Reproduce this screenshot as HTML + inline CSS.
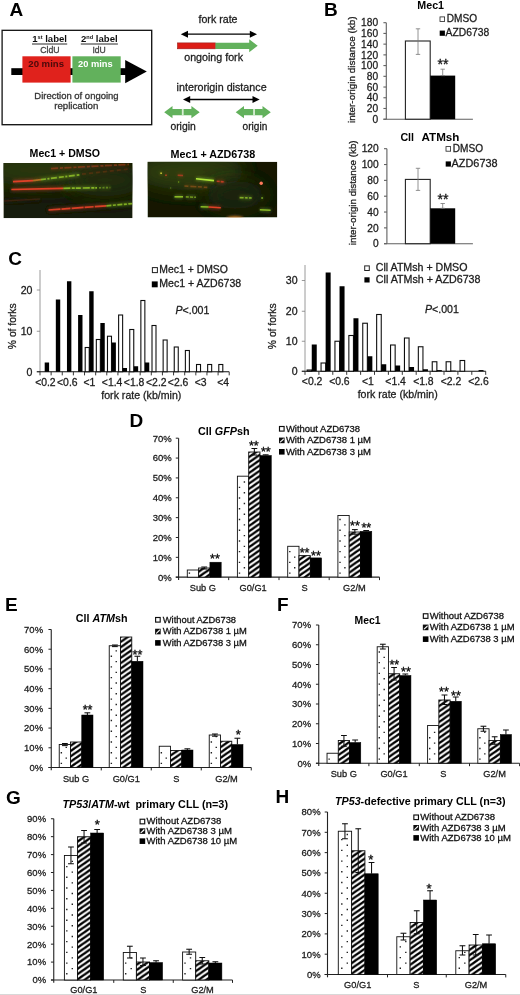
<!DOCTYPE html>
<html lang="en"><head><meta charset="utf-8"><title>Figure</title>
<style>html,body{margin:0;padding:0;background:#fff}svg{display:block;will-change:transform;transform:translateZ(0)}text{font-family:"Liberation Sans", Arial, sans-serif}</style></head><body>
<svg width="520" height="995" viewBox="0 0 520 995" fill="#1c1c1c">
<defs>
<pattern id="hatch" patternUnits="userSpaceOnUse" width="7.6" height="5.3"><rect width="7.6" height="5.3" fill="#fff"/><path d="M-7.6,10.6 L15.2,-5.3 M-7.6,5.3 L7.6,-5.3 M0,10.6 L15.2,0" stroke="#000" stroke-width="2.35"/></pattern>
<filter id="b1" filterUnits="userSpaceOnUse" x="0" y="150" width="300" height="80"><feGaussianBlur stdDeviation="0.55"/></filter>
<filter id="b2" filterUnits="userSpaceOnUse" x="0" y="150" width="300" height="80"><feGaussianBlur stdDeviation="1.6"/></filter>
<filter id="b3" filterUnits="userSpaceOnUse" x="-40" y="100" width="380" height="180"><feGaussianBlur stdDeviation="9"/></filter>
<filter id="soft" filterUnits="userSpaceOnUse" x="0" y="0" width="520" height="995"><feGaussianBlur stdDeviation="0.38"/></filter>
<clipPath id="cm1"><rect x="3.4" y="163" width="129.2" height="55.2"/></clipPath>
<clipPath id="cm2"><rect x="147.5" y="161.7" width="129.8" height="55.8"/></clipPath>
</defs>
<rect width="520" height="995" fill="#fff"/>
<g filter="url(#soft)">
<text x="9.60" y="16.40" font-size="19" font-weight="bold" fill="#000">A</text>
<text x="323.90" y="16.40" font-size="19" font-weight="bold" fill="#000">B</text>
<text x="8.30" y="265.30" font-size="19" font-weight="bold" fill="#000">C</text>
<text x="129.40" y="427.20" font-size="19" font-weight="bold" fill="#000">D</text>
<text x="5.10" y="610.50" font-size="19" font-weight="bold" fill="#000">E</text>
<text x="277.10" y="610.50" font-size="19" font-weight="bold" fill="#000">F</text>
<text x="5.90" y="803.50" font-size="19" font-weight="bold" fill="#000">G</text>
<text x="275.50" y="802.80" font-size="19" font-weight="bold" fill="#000">H</text>
<rect x="2.10" y="30.30" width="149.60" height="94.40" fill="#fff" stroke="#111" stroke-width="1.3" />
<rect x="11.30" y="68.20" width="117.00" height="6.80" fill="#000" />
<polygon points="125.2,60.0 146.8,71.6 125.2,83.2" fill="#000"/>
<rect x="22.40" y="56.30" width="48.20" height="26.30" fill="#e0201c" />
<rect x="72.40" y="56.30" width="48.30" height="26.30" fill="#62b15c" />
<text x="32.20" y="42.30" font-size="9.6" font-weight="bold" fill="#111" textLength="34.80" lengthAdjust="spacingAndGlyphs">1<tspan font-size="5.6" dy="-3.4">st</tspan><tspan dy="3.4"> label</tspan></text>
<line x1="32.00" y1="44.00" x2="67.20" y2="44.00" stroke="#111" stroke-width="0.9" />
<text x="81.00" y="42.30" font-size="9.6" font-weight="bold" fill="#111" textLength="36.70" lengthAdjust="spacingAndGlyphs">2<tspan font-size="5.6" dy="-3.4">nd</tspan><tspan dy="3.4"> label</tspan></text>
<line x1="80.80" y1="44.00" x2="117.90" y2="44.00" stroke="#111" stroke-width="0.9" />
<text x="40.20" y="53.30" font-size="8.2" fill="#444" textLength="19.40" lengthAdjust="spacingAndGlyphs" stroke="#444" stroke-width="0.28">CldU</text>
<text x="92.40" y="53.30" font-size="8.2" fill="#444" textLength="13.40" lengthAdjust="spacingAndGlyphs" stroke="#444" stroke-width="0.28">IdU</text>
<text x="28.30" y="67.40" font-size="9.8" font-weight="bold" fill="#4a0909" textLength="35.70" lengthAdjust="spacingAndGlyphs">20 mins</text>
<text x="78.00" y="67.40" font-size="9.8" font-weight="bold" fill="#fff" textLength="34.70" lengthAdjust="spacingAndGlyphs">20 mins</text>
<text x="34.30" y="98.60" font-size="9.2" fill="#333" textLength="84.30" lengthAdjust="spacingAndGlyphs" stroke="#333" stroke-width="0.28">Direction of ongoing</text>
<text x="54.20" y="109.30" font-size="9.2" fill="#333" textLength="44.20" lengthAdjust="spacingAndGlyphs" stroke="#333" stroke-width="0.28">replication</text>
<text x="198.50" y="23.30" font-size="10.6" textLength="39.00" lengthAdjust="spacingAndGlyphs" stroke="#1c1c1c" stroke-width="0.28">fork rate</text>
<line x1="187.50" y1="34.20" x2="250.30" y2="34.20" stroke="#000" stroke-width="1.3" />
<polygon points="180.8,34.2 188.0,30.700000000000003 188.0,37.7" fill="#000"/>
<polygon points="257,34.2 249.8,30.700000000000003 249.8,37.7" fill="#000"/>
<rect x="177.50" y="42.90" width="38.00" height="5.90" fill="#dc1c18" stroke="#9a1512" stroke-width="0.6" />
<polygon points="215.5,42.7 249.2,42.7 249.2,39.3 257.7,45.8 249.2,52.3 249.2,48.9 215.5,48.9" fill="#62b15c"/>
<text x="184.20" y="61.20" font-size="10.6" textLength="58.80" lengthAdjust="spacingAndGlyphs" stroke="#1c1c1c" stroke-width="0.28">ongoing fork</text>
<text x="176.60" y="91.20" font-size="10.6" textLength="90.00" lengthAdjust="spacingAndGlyphs" stroke="#1c1c1c" stroke-width="0.28">interorigin distance</text>
<line x1="189.70" y1="99.50" x2="253.00" y2="99.50" stroke="#000" stroke-width="1.3" />
<polygon points="183,99.5 190.2,96.0 190.2,103.0" fill="#000"/>
<polygon points="259.7,99.5 252.5,96.0 252.5,103.0" fill="#000"/>
<polygon points="164.2,112.2 172.5,106.10000000000001 172.5,109.10000000000001 191.39999999999998,109.10000000000001 191.39999999999998,106.10000000000001 199.7,112.2 191.39999999999998,118.3 191.39999999999998,115.3 172.5,115.3 172.5,118.3" fill="#62b15c"/>
<rect x="181.85" y="108.90" width="1.80" height="6.60" fill="#d9eed6" />
<polygon points="235.7,112.2 244.0,106.10000000000001 244.0,109.10000000000001 262.5,109.10000000000001 262.5,106.10000000000001 270.8,112.2 262.5,118.3 262.5,115.3 244.0,115.3 244.0,118.3" fill="#62b15c"/>
<rect x="253.15" y="108.90" width="1.80" height="6.60" fill="#d9eed6" />
<text x="170.40" y="130.00" font-size="10.6" textLength="25.40" lengthAdjust="spacingAndGlyphs" stroke="#1c1c1c" stroke-width="0.28">origin</text>
<text x="242.60" y="130.00" font-size="10.6" textLength="24.70" lengthAdjust="spacingAndGlyphs" stroke="#1c1c1c" stroke-width="0.28">origin</text>
<text x="29.60" y="157.00" font-size="10.2" font-weight="bold" fill="#000" textLength="70.40" lengthAdjust="spacingAndGlyphs">Mec1 + DMSO</text>
<text x="170.50" y="158.00" font-size="10.2" font-weight="bold" fill="#000" textLength="84.80" lengthAdjust="spacingAndGlyphs">Mec1 + AZD6738</text>
<g clip-path="url(#cm1)">
<rect x="3.40" y="163.00" width="129.20" height="55.20" fill="#141a07" />
<ellipse cx="40" cy="170" rx="60" ry="16" fill="#2c380d" filter="url(#b3)"/>
<ellipse cx="105" cy="180" rx="40" ry="16" fill="#232d0b" filter="url(#b3)"/>
<line x1="51" y1="168.6" x2="129" y2="164.4" stroke="#b5401c" stroke-width="4.1" opacity="0.19" filter="url(#b2)"/>
<line x1="51" y1="168.6" x2="129" y2="164.4" stroke="#b5401c" stroke-width="1.7" opacity="0.5" stroke-dasharray="7 2 3 1.5" filter="url(#b1)"/>
<line x1="13" y1="181.6" x2="33" y2="180.6" stroke="#e8432a" stroke-width="4.1" opacity="0.36" filter="url(#b2)"/>
<line x1="13" y1="181.6" x2="33" y2="180.6" stroke="#e8432a" stroke-width="1.7" opacity="0.95" filter="url(#b1)"/>
<line x1="33" y1="180.6" x2="41" y2="179.6" stroke="#c87828" stroke-width="4.1" opacity="0.30" filter="url(#b2)"/>
<line x1="33" y1="180.6" x2="41" y2="179.6" stroke="#c87828" stroke-width="1.7" opacity="0.8" filter="url(#b1)"/>
<line x1="41" y1="179.6" x2="79.4" y2="174.8" stroke="#93c62a" stroke-width="4.1" opacity="0.30" filter="url(#b2)"/>
<line x1="41" y1="179.6" x2="79.4" y2="174.8" stroke="#93c62a" stroke-width="1.7" opacity="0.8" stroke-dasharray="5 1.5 2 1.5 6 2" filter="url(#b1)"/>
<line x1="82" y1="174.2" x2="130" y2="168.8" stroke="#a03818" stroke-width="4.1" opacity="0.11" filter="url(#b2)"/>
<line x1="82" y1="174.2" x2="130" y2="168.8" stroke="#a03818" stroke-width="1.7" opacity="0.3" stroke-dasharray="4 3" filter="url(#b1)"/>
<line x1="11.4" y1="189.5" x2="63.3" y2="188.3" stroke="#e8432a" stroke-width="4.1" opacity="0.36" filter="url(#b2)"/>
<line x1="11.4" y1="189.5" x2="63.3" y2="188.3" stroke="#e8432a" stroke-width="1.7" opacity="0.95" filter="url(#b1)"/>
<line x1="63.3" y1="188.3" x2="97" y2="187.8" stroke="#93c62a" stroke-width="4.1" opacity="0.32" filter="url(#b2)"/>
<line x1="63.3" y1="188.3" x2="97" y2="187.8" stroke="#93c62a" stroke-width="1.7" opacity="0.85" stroke-dasharray="7 1.5 3 1 5 2" filter="url(#b1)"/>
<line x1="99" y1="187.8" x2="110.4" y2="187.6" stroke="#93c62a" stroke-width="4.1" opacity="0.19" filter="url(#b2)"/>
<line x1="99" y1="187.8" x2="110.4" y2="187.6" stroke="#93c62a" stroke-width="1.7" opacity="0.5" stroke-dasharray="2 1.5" filter="url(#b1)"/>
<line x1="48.5" y1="210.0" x2="106.4" y2="205.8" stroke="#e8432a" stroke-width="4.1" opacity="0.34" filter="url(#b2)"/>
<line x1="48.5" y1="210.0" x2="106.4" y2="205.8" stroke="#e8432a" stroke-width="1.7" opacity="0.9" stroke-dasharray="12 1 9 1.2" filter="url(#b1)"/>
<line x1="106.4" y1="205.8" x2="132" y2="203.6" stroke="#93c62a" stroke-width="4.1" opacity="0.30" filter="url(#b2)"/>
<line x1="106.4" y1="205.8" x2="132" y2="203.6" stroke="#93c62a" stroke-width="1.7" opacity="0.8" stroke-dasharray="5 1.5 3 1.5" filter="url(#b1)"/>
<line x1="4" y1="201.0" x2="40" y2="199.0" stroke="#7a3015" stroke-width="4.1" opacity="0.11" filter="url(#b2)"/>
<line x1="4" y1="201.0" x2="40" y2="199.0" stroke="#7a3015" stroke-width="1.7" opacity="0.3" filter="url(#b1)"/>
</g>
<g clip-path="url(#cm2)">
<rect x="147.50" y="161.70" width="129.80" height="55.80" fill="#121806" />
<ellipse cx="190" cy="172" rx="55" ry="18" fill="#2f3c0e" filter="url(#b3)"/>
<ellipse cx="235" cy="195" rx="30" ry="14" fill="#1e280a" filter="url(#b3)"/>
<line x1="160.4" y1="173.3" x2="161.8" y2="173.3" stroke="#e0d83a" stroke-width="4.0" opacity="0.38" filter="url(#b2)"/>
<line x1="160.4" y1="173.3" x2="161.8" y2="173.3" stroke="#e0d83a" stroke-width="1.6" opacity="1" filter="url(#b1)"/>
<line x1="165.3" y1="175.2" x2="166.7" y2="175.2" stroke="#e8432a" stroke-width="4.0" opacity="0.30" filter="url(#b2)"/>
<line x1="165.3" y1="175.2" x2="166.7" y2="175.2" stroke="#e8432a" stroke-width="1.6" opacity="0.8" filter="url(#b1)"/>
<line x1="177.7" y1="175.3" x2="183" y2="175.5" stroke="#e8432a" stroke-width="4.0" opacity="0.21" filter="url(#b2)"/>
<line x1="177.7" y1="175.3" x2="183" y2="175.5" stroke="#e8432a" stroke-width="1.6" opacity="0.55" filter="url(#b1)"/>
<line x1="196" y1="178.8" x2="214" y2="180.6" stroke="#b4ec3a" stroke-width="4.0" opacity="0.36" filter="url(#b2)"/>
<line x1="196" y1="178.8" x2="214" y2="180.6" stroke="#b4ec3a" stroke-width="1.6" opacity="0.95" filter="url(#b1)"/>
<line x1="216.7" y1="181.2" x2="224.8" y2="182" stroke="#e8432a" stroke-width="4.0" opacity="0.27" filter="url(#b2)"/>
<line x1="216.7" y1="181.2" x2="224.8" y2="182" stroke="#e8432a" stroke-width="1.6" opacity="0.7" stroke-dasharray="3 1" filter="url(#b1)"/>
<line x1="184.4" y1="186" x2="207.3" y2="187.4" stroke="#b0601a" stroke-width="4.0" opacity="0.19" filter="url(#b2)"/>
<line x1="184.4" y1="186" x2="207.3" y2="187.4" stroke="#b0601a" stroke-width="1.6" opacity="0.5" stroke-dasharray="4 2 6 1.5" filter="url(#b1)"/>
<line x1="174.5" y1="196.8" x2="183" y2="196.8" stroke="#93c62a" stroke-width="4.0" opacity="0.34" filter="url(#b2)"/>
<line x1="174.5" y1="196.8" x2="183" y2="196.8" stroke="#93c62a" stroke-width="1.6" opacity="0.9" filter="url(#b1)"/>
<line x1="185.8" y1="196.9" x2="196" y2="197.3" stroke="#93c62a" stroke-width="4.0" opacity="0.25" filter="url(#b2)"/>
<line x1="185.8" y1="196.9" x2="196" y2="197.3" stroke="#93c62a" stroke-width="1.6" opacity="0.65" stroke-dasharray="3 1.2" filter="url(#b1)"/>
<line x1="200.6" y1="206.8" x2="208.7" y2="207" stroke="#93c62a" stroke-width="4.0" opacity="0.34" filter="url(#b2)"/>
<line x1="200.6" y1="206.8" x2="208.7" y2="207" stroke="#93c62a" stroke-width="1.6" opacity="0.9" filter="url(#b1)"/>
<line x1="208.7" y1="207" x2="220.8" y2="207.8" stroke="#e8432a" stroke-width="4.0" opacity="0.36" filter="url(#b2)"/>
<line x1="208.7" y1="207" x2="220.8" y2="207.8" stroke="#e8432a" stroke-width="1.6" opacity="0.95" filter="url(#b1)"/>
<line x1="239.6" y1="197.6" x2="251.7" y2="198" stroke="#93c62a" stroke-width="4.0" opacity="0.30" filter="url(#b2)"/>
<line x1="239.6" y1="197.6" x2="251.7" y2="198" stroke="#93c62a" stroke-width="1.6" opacity="0.8" stroke-dasharray="4 1.5 2.5 1.5" filter="url(#b1)"/>
<line x1="261.3" y1="198" x2="262.9" y2="198" stroke="#93c62a" stroke-width="4.0" opacity="0.32" filter="url(#b2)"/>
<line x1="261.3" y1="198" x2="262.9" y2="198" stroke="#93c62a" stroke-width="1.6" opacity="0.85" filter="url(#b1)"/>
<line x1="259.8" y1="209.8" x2="270.6" y2="210.2" stroke="#93c62a" stroke-width="4.0" opacity="0.34" filter="url(#b2)"/>
<line x1="259.8" y1="209.8" x2="270.6" y2="210.2" stroke="#93c62a" stroke-width="1.6" opacity="0.9" filter="url(#b1)"/>
<line x1="178" y1="182" x2="179.2" y2="182" stroke="#93c62a" stroke-width="4.0" opacity="0.21" filter="url(#b2)"/>
<line x1="178" y1="182" x2="179.2" y2="182" stroke="#93c62a" stroke-width="1.6" opacity="0.55" filter="url(#b1)"/>
<line x1="170" y1="188" x2="171.2" y2="188" stroke="#93c62a" stroke-width="4.0" opacity="0.13" filter="url(#b2)"/>
<line x1="170" y1="188" x2="171.2" y2="188" stroke="#93c62a" stroke-width="1.6" opacity="0.35" filter="url(#b1)"/>
<circle cx="261.2" cy="183.3" r="1.7" fill="#ff7a5a" filter="url(#b1)"/>
<ellipse cx="235" cy="218.3" rx="8" ry="1.8" fill="#ff9a30" filter="url(#b2)"/>
</g>
<text x="417.30" y="9.20" font-size="10.7" font-weight="bold" fill="#000">Mec1</text>
<line x1="386.30" y1="22.70" x2="386.30" y2="119.20" stroke="#606060" stroke-width="1.1" />
<line x1="383.40" y1="119.20" x2="472.90" y2="119.20" stroke="#606060" stroke-width="1.1" />
<line x1="383.40" y1="119.20" x2="386.30" y2="119.20" stroke="#606060" stroke-width="1.1" />
<text x="378.10" y="122.85" font-size="10.2" text-anchor="end" stroke="#1c1c1c" stroke-width="0.28">0</text>
<line x1="383.40" y1="108.48" x2="386.30" y2="108.48" stroke="#606060" stroke-width="1.1" />
<text x="378.10" y="112.13" font-size="10.2" text-anchor="end" stroke="#1c1c1c" stroke-width="0.28">20</text>
<line x1="383.40" y1="97.76" x2="386.30" y2="97.76" stroke="#606060" stroke-width="1.1" />
<text x="378.10" y="101.41" font-size="10.2" text-anchor="end" stroke="#1c1c1c" stroke-width="0.28">40</text>
<line x1="383.40" y1="87.03" x2="386.30" y2="87.03" stroke="#606060" stroke-width="1.1" />
<text x="378.10" y="90.68" font-size="10.2" text-anchor="end" stroke="#1c1c1c" stroke-width="0.28">60</text>
<line x1="383.40" y1="76.31" x2="386.30" y2="76.31" stroke="#606060" stroke-width="1.1" />
<text x="378.10" y="79.96" font-size="10.2" text-anchor="end" stroke="#1c1c1c" stroke-width="0.28">80</text>
<line x1="383.40" y1="65.59" x2="386.30" y2="65.59" stroke="#606060" stroke-width="1.1" />
<text x="378.10" y="69.24" font-size="10.2" text-anchor="end" stroke="#1c1c1c" stroke-width="0.28">100</text>
<line x1="383.40" y1="54.87" x2="386.30" y2="54.87" stroke="#606060" stroke-width="1.1" />
<text x="378.10" y="58.52" font-size="10.2" text-anchor="end" stroke="#1c1c1c" stroke-width="0.28">120</text>
<line x1="383.40" y1="44.14" x2="386.30" y2="44.14" stroke="#606060" stroke-width="1.1" />
<text x="378.10" y="47.79" font-size="10.2" text-anchor="end" stroke="#1c1c1c" stroke-width="0.28">140</text>
<line x1="383.40" y1="33.42" x2="386.30" y2="33.42" stroke="#606060" stroke-width="1.1" />
<text x="378.10" y="37.07" font-size="10.2" text-anchor="end" stroke="#1c1c1c" stroke-width="0.28">160</text>
<line x1="383.40" y1="22.70" x2="386.30" y2="22.70" stroke="#606060" stroke-width="1.1" />
<text x="378.10" y="26.35" font-size="10.2" text-anchor="end" stroke="#1c1c1c" stroke-width="0.28">180</text>
<rect x="405.40" y="41.00" width="24.80" height="78.20" fill="#fff" stroke="#222" stroke-width="1.1" />
<rect x="430.20" y="75.60" width="25.00" height="43.60" fill="#000" />
<line x1="418.00" y1="28.80" x2="418.00" y2="54.40" stroke="#777" stroke-width="0.8" />
<line x1="415.80" y1="28.80" x2="420.20" y2="28.80" stroke="#777" stroke-width="0.8" />
<line x1="415.80" y1="54.40" x2="420.20" y2="54.40" stroke="#777" stroke-width="0.8" />
<line x1="442.70" y1="69.20" x2="442.70" y2="75.60" stroke="#777" stroke-width="0.8" />
<line x1="440.50" y1="69.20" x2="444.90" y2="69.20" stroke="#777" stroke-width="0.8" />
<line x1="440.50" y1="75.60" x2="444.90" y2="75.60" stroke="#777" stroke-width="0.8" />
<text x="443.00" y="69.30" font-size="14" text-anchor="middle" fill="#111" textLength="11.00" lengthAdjust="spacingAndGlyphs" stroke="#111" stroke-width="0.28">**</text>
<text x="355.30" y="123.00" font-size="9.9" textLength="106.70" lengthAdjust="spacingAndGlyphs" transform="rotate(-90 355.30 123.00)" stroke="#1c1c1c" stroke-width="0.28">inter-origin distance (kb)</text>
<rect x="440.00" y="16.90" width="4.60" height="4.60" fill="#fff" stroke="#222" stroke-width="0.8" />
<text x="446.80" y="21.90" font-size="10.1" textLength="30.30" lengthAdjust="spacingAndGlyphs" stroke="#1c1c1c" stroke-width="0.28">DMSO</text>
<rect x="439.70" y="30.60" width="5.20" height="5.20" fill="#000" />
<text x="445.60" y="36.20" font-size="10.4" textLength="43.60" lengthAdjust="spacingAndGlyphs" stroke="#1c1c1c" stroke-width="0.28">AZD6738</text>
<text x="400.40" y="141.20" font-size="10.7" font-weight="bold" fill="#000">Cll</text>
<text x="421.50" y="141.20" font-size="10.7" font-weight="bold" fill="#000" textLength="37.90" lengthAdjust="spacingAndGlyphs">ATMsh</text>
<line x1="386.90" y1="148.70" x2="386.90" y2="243.70" stroke="#606060" stroke-width="1.1" />
<line x1="384.00" y1="243.70" x2="472.90" y2="243.70" stroke="#606060" stroke-width="1.1" />
<line x1="384.00" y1="243.70" x2="386.90" y2="243.70" stroke="#606060" stroke-width="1.1" />
<text x="378.70" y="247.35" font-size="10.2" text-anchor="end" stroke="#1c1c1c" stroke-width="0.28">0</text>
<line x1="384.00" y1="227.87" x2="386.90" y2="227.87" stroke="#606060" stroke-width="1.1" />
<text x="378.70" y="231.52" font-size="10.2" text-anchor="end" stroke="#1c1c1c" stroke-width="0.28">20</text>
<line x1="384.00" y1="212.03" x2="386.90" y2="212.03" stroke="#606060" stroke-width="1.1" />
<text x="378.70" y="215.68" font-size="10.2" text-anchor="end" stroke="#1c1c1c" stroke-width="0.28">40</text>
<line x1="384.00" y1="196.20" x2="386.90" y2="196.20" stroke="#606060" stroke-width="1.1" />
<text x="378.70" y="199.85" font-size="10.2" text-anchor="end" stroke="#1c1c1c" stroke-width="0.28">60</text>
<line x1="384.00" y1="180.37" x2="386.90" y2="180.37" stroke="#606060" stroke-width="1.1" />
<text x="378.70" y="184.02" font-size="10.2" text-anchor="end" stroke="#1c1c1c" stroke-width="0.28">80</text>
<line x1="384.00" y1="164.53" x2="386.90" y2="164.53" stroke="#606060" stroke-width="1.1" />
<text x="378.70" y="168.18" font-size="10.2" text-anchor="end" stroke="#1c1c1c" stroke-width="0.28">100</text>
<line x1="384.00" y1="148.70" x2="386.90" y2="148.70" stroke="#606060" stroke-width="1.1" />
<text x="378.70" y="152.35" font-size="10.2" text-anchor="end" stroke="#1c1c1c" stroke-width="0.28">120</text>
<rect x="405.40" y="179.40" width="24.80" height="64.30" fill="#fff" stroke="#222" stroke-width="1.1" />
<rect x="430.20" y="208.30" width="25.00" height="35.40" fill="#000" />
<line x1="418.00" y1="168.30" x2="418.00" y2="190.40" stroke="#777" stroke-width="0.8" />
<line x1="415.80" y1="168.30" x2="420.20" y2="168.30" stroke="#777" stroke-width="0.8" />
<line x1="415.80" y1="190.40" x2="420.20" y2="190.40" stroke="#777" stroke-width="0.8" />
<line x1="442.70" y1="203.50" x2="442.70" y2="208.30" stroke="#777" stroke-width="0.8" />
<line x1="440.50" y1="203.50" x2="444.90" y2="203.50" stroke="#777" stroke-width="0.8" />
<line x1="440.50" y1="208.30" x2="444.90" y2="208.30" stroke="#777" stroke-width="0.8" />
<text x="443.00" y="203.90" font-size="14" text-anchor="middle" fill="#111" textLength="11.00" lengthAdjust="spacingAndGlyphs" stroke="#111" stroke-width="0.28">**</text>
<text x="355.60" y="245.20" font-size="9.9" textLength="104.80" lengthAdjust="spacingAndGlyphs" transform="rotate(-90 355.60 245.20)" stroke="#1c1c1c" stroke-width="0.28">inter-origin distance (kb)</text>
<rect x="446.00" y="146.60" width="4.60" height="4.60" fill="#fff" stroke="#222" stroke-width="0.8" />
<text x="452.80" y="151.60" font-size="10.1" textLength="30.30" lengthAdjust="spacingAndGlyphs" stroke="#1c1c1c" stroke-width="0.28">DMSO</text>
<rect x="445.70" y="161.40" width="5.20" height="5.20" fill="#000" />
<text x="451.60" y="167.00" font-size="10.4" textLength="46.00" lengthAdjust="spacingAndGlyphs" stroke="#1c1c1c" stroke-width="0.28">AZD6738</text>
<line x1="40.00" y1="270.00" x2="40.00" y2="371.75" stroke="#808080" stroke-width="0.8" />
<line x1="36.80" y1="290.00" x2="40.00" y2="290.00" stroke="#808080" stroke-width="0.8" />
<text x="32.50" y="293.80" font-size="10.6" text-anchor="end" stroke="#1c1c1c" stroke-width="0.28">20</text>
<line x1="36.80" y1="331.25" x2="40.00" y2="331.25" stroke="#808080" stroke-width="0.8" />
<text x="32.50" y="335.05" font-size="10.6" text-anchor="end" stroke="#1c1c1c" stroke-width="0.28">10</text>
<line x1="36.80" y1="371.75" x2="40.00" y2="371.75" stroke="#808080" stroke-width="0.8" />
<text x="32.50" y="375.55" font-size="10.6" text-anchor="end" stroke="#1c1c1c" stroke-width="0.28">0</text>
<line x1="36.80" y1="371.75" x2="229.21" y2="371.75" stroke="#111" stroke-width="1.2" />
<line x1="40.00" y1="371.75" x2="40.00" y2="375.35" stroke="#222" stroke-width="0.9" />
<line x1="51.13" y1="371.75" x2="51.13" y2="375.35" stroke="#222" stroke-width="0.9" />
<line x1="62.26" y1="371.75" x2="62.26" y2="375.35" stroke="#222" stroke-width="0.9" />
<line x1="73.39" y1="371.75" x2="73.39" y2="375.35" stroke="#222" stroke-width="0.9" />
<line x1="84.52" y1="371.75" x2="84.52" y2="375.35" stroke="#222" stroke-width="0.9" />
<line x1="95.65" y1="371.75" x2="95.65" y2="375.35" stroke="#222" stroke-width="0.9" />
<line x1="106.78" y1="371.75" x2="106.78" y2="375.35" stroke="#222" stroke-width="0.9" />
<line x1="117.91" y1="371.75" x2="117.91" y2="375.35" stroke="#222" stroke-width="0.9" />
<line x1="129.04" y1="371.75" x2="129.04" y2="375.35" stroke="#222" stroke-width="0.9" />
<line x1="140.17" y1="371.75" x2="140.17" y2="375.35" stroke="#222" stroke-width="0.9" />
<line x1="151.30" y1="371.75" x2="151.30" y2="375.35" stroke="#222" stroke-width="0.9" />
<line x1="162.43" y1="371.75" x2="162.43" y2="375.35" stroke="#222" stroke-width="0.9" />
<line x1="173.56" y1="371.75" x2="173.56" y2="375.35" stroke="#222" stroke-width="0.9" />
<line x1="184.69" y1="371.75" x2="184.69" y2="375.35" stroke="#222" stroke-width="0.9" />
<line x1="195.82" y1="371.75" x2="195.82" y2="375.35" stroke="#222" stroke-width="0.9" />
<line x1="206.95" y1="371.75" x2="206.95" y2="375.35" stroke="#222" stroke-width="0.9" />
<line x1="218.08" y1="371.75" x2="218.08" y2="375.35" stroke="#222" stroke-width="0.9" />
<line x1="229.21" y1="371.75" x2="229.21" y2="375.35" stroke="#222" stroke-width="0.9" />
<rect x="44.70" y="362.50" width="4.40" height="9.25" fill="#000" />
<rect x="55.83" y="299.50" width="4.40" height="72.25" fill="#000" />
<rect x="66.96" y="281.25" width="4.40" height="90.50" fill="#000" />
<rect x="78.09" y="315.00" width="4.40" height="56.75" fill="#000" />
<rect x="85.22" y="347.50" width="4.00" height="24.25" fill="#fff" stroke="#111" stroke-width="1.1" />
<rect x="89.22" y="291.25" width="4.40" height="80.50" fill="#000" />
<rect x="96.35" y="339.50" width="4.00" height="32.25" fill="#fff" stroke="#111" stroke-width="1.1" />
<rect x="100.35" y="323.00" width="4.40" height="48.75" fill="#000" />
<rect x="107.48" y="336.25" width="4.00" height="35.50" fill="#fff" stroke="#111" stroke-width="1.1" />
<rect x="111.48" y="342.50" width="4.40" height="29.25" fill="#000" />
<rect x="118.61" y="315.00" width="4.00" height="56.75" fill="#fff" stroke="#111" stroke-width="1.1" />
<rect x="122.61" y="368.00" width="4.40" height="3.75" fill="#000" />
<rect x="129.74" y="329.50" width="4.00" height="42.25" fill="#fff" stroke="#111" stroke-width="1.1" />
<rect x="133.74" y="366.25" width="4.40" height="5.50" fill="#000" />
<rect x="140.87" y="300.50" width="4.00" height="71.25" fill="#fff" stroke="#111" stroke-width="1.1" />
<rect x="144.87" y="362.50" width="4.40" height="9.25" fill="#000" />
<rect x="152.00" y="325.50" width="4.00" height="46.25" fill="#fff" stroke="#111" stroke-width="1.1" />
<rect x="163.13" y="340.00" width="4.00" height="31.75" fill="#fff" stroke="#111" stroke-width="1.1" />
<rect x="174.26" y="347.00" width="4.00" height="24.75" fill="#fff" stroke="#111" stroke-width="1.1" />
<rect x="185.39" y="350.50" width="4.00" height="21.25" fill="#fff" stroke="#111" stroke-width="1.1" />
<rect x="196.52" y="364.50" width="4.00" height="7.25" fill="#fff" stroke="#111" stroke-width="1.1" />
<rect x="207.65" y="364.50" width="4.00" height="7.25" fill="#fff" stroke="#111" stroke-width="1.1" />
<rect x="218.78" y="364.50" width="4.00" height="7.25" fill="#fff" stroke="#111" stroke-width="1.1" />
<text x="45.40" y="386.10" font-size="10.4" text-anchor="middle" stroke="#1c1c1c" stroke-width="0.28">&lt;0.2</text>
<text x="67.30" y="386.10" font-size="10.4" text-anchor="middle" stroke="#1c1c1c" stroke-width="0.28">&lt;0.6</text>
<text x="89.40" y="386.10" font-size="10.4" text-anchor="middle" stroke="#1c1c1c" stroke-width="0.28">&lt;1</text>
<text x="112.10" y="386.10" font-size="10.4" text-anchor="middle" stroke="#1c1c1c" stroke-width="0.28">&lt;1.4</text>
<text x="134.10" y="386.10" font-size="10.4" text-anchor="middle" stroke="#1c1c1c" stroke-width="0.28">&lt;1.8</text>
<text x="156.30" y="386.10" font-size="10.4" text-anchor="middle" stroke="#1c1c1c" stroke-width="0.28">&lt;2.2</text>
<text x="178.10" y="386.10" font-size="10.4" text-anchor="middle" stroke="#1c1c1c" stroke-width="0.28">&lt;2.6</text>
<text x="200.60" y="386.10" font-size="10.4" text-anchor="middle" stroke="#1c1c1c" stroke-width="0.28">&lt;3</text>
<text x="223.10" y="386.10" font-size="10.4" text-anchor="middle" stroke="#1c1c1c" stroke-width="0.28">&lt;4</text>
<text x="16.00" y="326.25" font-size="10.3" text-anchor="middle" transform="rotate(-90 16.00 326.25)" stroke="#1c1c1c" stroke-width="0.28">% of forks</text>
<text x="141.30" y="399.00" font-size="10.6" text-anchor="middle" stroke="#1c1c1c" stroke-width="0.28">fork rate (kb/min)</text>
<rect x="152.40" y="267.60" width="5.00" height="5.00" fill="#fff" stroke="#222" stroke-width="1.0" />
<text x="159.30" y="273.20" font-size="10.3" textLength="68.60" lengthAdjust="spacingAndGlyphs" stroke="#1c1c1c" stroke-width="0.28">Mec1 + DMSO</text>
<rect x="151.80" y="281.40" width="5.90" height="5.90" fill="#000" />
<text x="159.30" y="286.80" font-size="10.3" textLength="81.90" lengthAdjust="spacingAndGlyphs" stroke="#1c1c1c" stroke-width="0.28">Mec1 + AZD6738</text>
<text x="175.50" y="313.70" font-size="10.6" stroke="#1c1c1c" stroke-width="0.28"><tspan font-style="italic">P</tspan>&lt;.001</text>
<line x1="305.00" y1="265.00" x2="305.00" y2="371.25" stroke="#808080" stroke-width="0.8" />
<line x1="301.80" y1="280.50" x2="305.00" y2="280.50" stroke="#808080" stroke-width="0.8" />
<text x="297.60" y="284.30" font-size="10.6" text-anchor="end" stroke="#1c1c1c" stroke-width="0.28">30</text>
<line x1="301.80" y1="311.25" x2="305.00" y2="311.25" stroke="#808080" stroke-width="0.8" />
<text x="297.60" y="315.05" font-size="10.6" text-anchor="end" stroke="#1c1c1c" stroke-width="0.28">20</text>
<line x1="301.80" y1="341.25" x2="305.00" y2="341.25" stroke="#808080" stroke-width="0.8" />
<text x="297.60" y="345.05" font-size="10.6" text-anchor="end" stroke="#1c1c1c" stroke-width="0.28">10</text>
<line x1="301.80" y1="371.25" x2="305.00" y2="371.25" stroke="#808080" stroke-width="0.8" />
<text x="297.60" y="375.05" font-size="10.6" text-anchor="end" stroke="#1c1c1c" stroke-width="0.28">0</text>
<line x1="301.80" y1="371.25" x2="485.70" y2="371.25" stroke="#111" stroke-width="1.2" />
<line x1="305.00" y1="371.25" x2="305.00" y2="374.85" stroke="#222" stroke-width="0.9" />
<line x1="318.90" y1="371.25" x2="318.90" y2="374.85" stroke="#222" stroke-width="0.9" />
<line x1="332.80" y1="371.25" x2="332.80" y2="374.85" stroke="#222" stroke-width="0.9" />
<line x1="346.70" y1="371.25" x2="346.70" y2="374.85" stroke="#222" stroke-width="0.9" />
<line x1="360.60" y1="371.25" x2="360.60" y2="374.85" stroke="#222" stroke-width="0.9" />
<line x1="374.50" y1="371.25" x2="374.50" y2="374.85" stroke="#222" stroke-width="0.9" />
<line x1="388.40" y1="371.25" x2="388.40" y2="374.85" stroke="#222" stroke-width="0.9" />
<line x1="402.30" y1="371.25" x2="402.30" y2="374.85" stroke="#222" stroke-width="0.9" />
<line x1="416.20" y1="371.25" x2="416.20" y2="374.85" stroke="#222" stroke-width="0.9" />
<line x1="430.10" y1="371.25" x2="430.10" y2="374.85" stroke="#222" stroke-width="0.9" />
<line x1="444.00" y1="371.25" x2="444.00" y2="374.85" stroke="#222" stroke-width="0.9" />
<line x1="457.90" y1="371.25" x2="457.90" y2="374.85" stroke="#222" stroke-width="0.9" />
<line x1="471.80" y1="371.25" x2="471.80" y2="374.85" stroke="#222" stroke-width="0.9" />
<line x1="485.70" y1="371.25" x2="485.70" y2="374.85" stroke="#222" stroke-width="0.9" />
<rect x="307.15" y="370.00" width="4.60" height="1.25" fill="#fff" stroke="#111" stroke-width="1.1" />
<rect x="311.75" y="344.50" width="5.00" height="26.75" fill="#000" />
<rect x="321.05" y="363.00" width="4.60" height="8.25" fill="#fff" stroke="#111" stroke-width="1.1" />
<rect x="325.65" y="272.50" width="5.00" height="98.75" fill="#000" />
<rect x="334.95" y="341.25" width="4.60" height="30.00" fill="#fff" stroke="#111" stroke-width="1.1" />
<rect x="339.55" y="286.25" width="5.00" height="85.00" fill="#000" />
<rect x="348.85" y="335.50" width="4.60" height="35.75" fill="#fff" stroke="#111" stroke-width="1.1" />
<rect x="353.45" y="318.25" width="5.00" height="53.00" fill="#000" />
<rect x="362.75" y="323.25" width="4.60" height="48.00" fill="#fff" stroke="#111" stroke-width="1.1" />
<rect x="367.35" y="356.25" width="5.00" height="15.00" fill="#000" />
<rect x="376.65" y="314.50" width="4.60" height="56.75" fill="#fff" stroke="#111" stroke-width="1.1" />
<rect x="381.25" y="364.25" width="5.00" height="7.00" fill="#000" />
<rect x="390.55" y="345.00" width="4.60" height="26.25" fill="#fff" stroke="#111" stroke-width="1.1" />
<rect x="395.15" y="365.50" width="5.00" height="5.75" fill="#000" />
<rect x="404.45" y="338.00" width="4.60" height="33.25" fill="#fff" stroke="#111" stroke-width="1.1" />
<rect x="409.05" y="367.00" width="5.00" height="4.25" fill="#000" />
<rect x="418.35" y="346.75" width="4.60" height="24.50" fill="#fff" stroke="#111" stroke-width="1.1" />
<rect x="422.95" y="369.25" width="5.00" height="2.00" fill="#000" />
<rect x="432.25" y="361.75" width="4.60" height="9.50" fill="#fff" stroke="#111" stroke-width="1.1" />
<rect x="436.85" y="370.10" width="5.00" height="1.15" fill="#000" />
<rect x="446.15" y="361.75" width="4.60" height="9.50" fill="#fff" stroke="#111" stroke-width="1.1" />
<rect x="450.75" y="370.60" width="5.00" height="0.65" fill="#000" />
<rect x="460.05" y="360.50" width="4.60" height="10.75" fill="#fff" stroke="#111" stroke-width="1.1" />
<rect x="478.55" y="370.10" width="5.00" height="1.15" fill="#000" />
<text x="312.10" y="385.20" font-size="10.4" text-anchor="middle" stroke="#1c1c1c" stroke-width="0.28">&lt;0.2</text>
<text x="339.40" y="385.20" font-size="10.4" text-anchor="middle" stroke="#1c1c1c" stroke-width="0.28">&lt;0.6</text>
<text x="367.90" y="385.20" font-size="10.4" text-anchor="middle" stroke="#1c1c1c" stroke-width="0.28">&lt;1</text>
<text x="395.60" y="385.20" font-size="10.4" text-anchor="middle" stroke="#1c1c1c" stroke-width="0.28">&lt;1.4</text>
<text x="423.40" y="385.20" font-size="10.4" text-anchor="middle" stroke="#1c1c1c" stroke-width="0.28">&lt;1.8</text>
<text x="451.00" y="385.20" font-size="10.4" text-anchor="middle" stroke="#1c1c1c" stroke-width="0.28">&lt;2.2</text>
<text x="478.50" y="385.20" font-size="10.4" text-anchor="middle" stroke="#1c1c1c" stroke-width="0.28">&lt;2.6</text>
<text x="276.00" y="326.25" font-size="10.3" text-anchor="middle" transform="rotate(-90 276.00 326.25)" stroke="#1c1c1c" stroke-width="0.28">% of forks</text>
<text x="397.70" y="398.30" font-size="10.6" text-anchor="middle" stroke="#1c1c1c" stroke-width="0.28">fork rate (kb/min)</text>
<rect x="364.70" y="265.90" width="4.60" height="4.60" fill="#fff" stroke="#222" stroke-width="1.0" />
<text x="375.80" y="270.70" font-size="10.3" textLength="91.70" lengthAdjust="spacingAndGlyphs" stroke="#1c1c1c" stroke-width="0.28">Cll ATMsh + DMSO</text>
<rect x="364.40" y="277.30" width="5.20" height="5.20" fill="#000" />
<text x="375.80" y="282.60" font-size="10.3" textLength="104.70" lengthAdjust="spacingAndGlyphs" stroke="#1c1c1c" stroke-width="0.28">Cll ATMsh + AZD6738</text>
<text x="425.00" y="312.50" font-size="10.6" stroke="#1c1c1c" stroke-width="0.28"><tspan font-style="italic">P</tspan>&lt;.001</text>
<text x="198.00" y="434.70" font-size="10.3" font-weight="bold" fill="#000" textLength="51.60" lengthAdjust="spacingAndGlyphs">Cll <tspan font-style="italic">GFP</tspan>sh</text>
<line x1="178.60" y1="438.20" x2="178.60" y2="580.00" stroke="#222" stroke-width="1.1" />
<line x1="175.80" y1="577.20" x2="178.60" y2="577.20" stroke="#222" stroke-width="1.0" />
<text x="171.80" y="580.60" font-size="9.7" text-anchor="end" textLength="13.70" lengthAdjust="spacingAndGlyphs" stroke="#1c1c1c" stroke-width="0.28">0%</text>
<line x1="175.80" y1="557.34" x2="178.60" y2="557.34" stroke="#222" stroke-width="1.0" />
<text x="171.80" y="560.74" font-size="9.7" text-anchor="end" textLength="19.00" lengthAdjust="spacingAndGlyphs" stroke="#1c1c1c" stroke-width="0.28">10%</text>
<line x1="175.80" y1="537.49" x2="178.60" y2="537.49" stroke="#222" stroke-width="1.0" />
<text x="171.80" y="540.89" font-size="9.7" text-anchor="end" textLength="19.00" lengthAdjust="spacingAndGlyphs" stroke="#1c1c1c" stroke-width="0.28">20%</text>
<line x1="175.80" y1="517.63" x2="178.60" y2="517.63" stroke="#222" stroke-width="1.0" />
<text x="171.80" y="521.03" font-size="9.7" text-anchor="end" textLength="19.00" lengthAdjust="spacingAndGlyphs" stroke="#1c1c1c" stroke-width="0.28">30%</text>
<line x1="175.80" y1="497.77" x2="178.60" y2="497.77" stroke="#222" stroke-width="1.0" />
<text x="171.80" y="501.17" font-size="9.7" text-anchor="end" textLength="19.00" lengthAdjust="spacingAndGlyphs" stroke="#1c1c1c" stroke-width="0.28">40%</text>
<line x1="175.80" y1="477.91" x2="178.60" y2="477.91" stroke="#222" stroke-width="1.0" />
<text x="171.80" y="481.31" font-size="9.7" text-anchor="end" textLength="19.00" lengthAdjust="spacingAndGlyphs" stroke="#1c1c1c" stroke-width="0.28">50%</text>
<line x1="175.80" y1="458.06" x2="178.60" y2="458.06" stroke="#222" stroke-width="1.0" />
<text x="171.80" y="461.46" font-size="9.7" text-anchor="end" textLength="19.00" lengthAdjust="spacingAndGlyphs" stroke="#1c1c1c" stroke-width="0.28">60%</text>
<line x1="175.80" y1="438.20" x2="178.60" y2="438.20" stroke="#222" stroke-width="1.0" />
<text x="171.80" y="441.60" font-size="9.7" text-anchor="end" textLength="19.00" lengthAdjust="spacingAndGlyphs" stroke="#1c1c1c" stroke-width="0.28">70%</text>
<line x1="175.80" y1="577.20" x2="379.50" y2="577.20" stroke="#222" stroke-width="1.2" />
<line x1="228.70" y1="577.20" x2="228.70" y2="580.10" stroke="#222" stroke-width="1.0" />
<line x1="279.00" y1="577.20" x2="279.00" y2="580.10" stroke="#222" stroke-width="1.0" />
<line x1="329.20" y1="577.20" x2="329.20" y2="580.10" stroke="#222" stroke-width="1.0" />
<line x1="379.50" y1="577.20" x2="379.50" y2="580.10" stroke="#222" stroke-width="1.0" />
<rect x="187.30" y="570.00" width="11.30" height="7.20" fill="#fff" stroke="#111" stroke-width="0.9" />
<path d="M188.70,572.40h1.4v1.4h-1.4z" fill="#222"/>
<rect x="198.60" y="568.00" width="11.30" height="9.20" fill="url(#hatch)" stroke="#111" stroke-width="0.9" />
<line x1="204.25" y1="567.00" x2="204.25" y2="569.00" stroke="#111" stroke-width="1.05" />
<line x1="201.35" y1="567.00" x2="207.15" y2="567.00" stroke="#111" stroke-width="1.05" />
<line x1="201.35" y1="569.00" x2="207.15" y2="569.00" stroke="#111" stroke-width="1.05" />
<rect x="209.90" y="562.20" width="11.30" height="15.00" fill="#000" stroke="#000" stroke-width="0.5" />
<rect x="237.40" y="476.20" width="11.30" height="101.00" fill="#fff" stroke="#111" stroke-width="0.9" />
<path d="M238.80,572.40h1.4v1.4h-1.4zM238.80,561.68h1.4v1.4h-1.4zM238.80,550.96h1.4v1.4h-1.4zM238.80,540.24h1.4v1.4h-1.4zM238.80,529.52h1.4v1.4h-1.4zM238.80,518.80h1.4v1.4h-1.4zM238.80,508.08h1.4v1.4h-1.4zM238.80,497.36h1.4v1.4h-1.4zM238.80,486.64h1.4v1.4h-1.4zM243.70,567.10h1.4v1.4h-1.4zM243.70,556.38h1.4v1.4h-1.4zM243.70,545.66h1.4v1.4h-1.4zM243.70,534.94h1.4v1.4h-1.4zM243.70,524.22h1.4v1.4h-1.4zM243.70,513.50h1.4v1.4h-1.4zM243.70,502.78h1.4v1.4h-1.4zM243.70,492.06h1.4v1.4h-1.4zM243.70,481.34h1.4v1.4h-1.4z" fill="#222"/>
<rect x="248.70" y="452.00" width="11.30" height="125.20" fill="url(#hatch)" stroke="#111" stroke-width="0.9" />
<line x1="254.35" y1="448.50" x2="254.35" y2="455.00" stroke="#111" stroke-width="1.05" />
<line x1="251.45" y1="448.50" x2="257.25" y2="448.50" stroke="#111" stroke-width="1.05" />
<line x1="251.45" y1="455.00" x2="257.25" y2="455.00" stroke="#111" stroke-width="1.05" />
<rect x="260.00" y="455.50" width="11.30" height="121.70" fill="#000" stroke="#000" stroke-width="0.5" />
<line x1="265.65" y1="454.80" x2="265.65" y2="455.50" stroke="#111" stroke-width="1.05" />
<line x1="262.75" y1="454.80" x2="268.55" y2="454.80" stroke="#111" stroke-width="1.05" />
<rect x="287.70" y="546.30" width="11.30" height="30.90" fill="#fff" stroke="#111" stroke-width="0.9" />
<path d="M289.10,572.40h1.4v1.4h-1.4zM289.10,561.68h1.4v1.4h-1.4zM289.10,550.96h1.4v1.4h-1.4zM294.00,567.10h1.4v1.4h-1.4zM294.00,556.38h1.4v1.4h-1.4z" fill="#222"/>
<rect x="299.00" y="555.60" width="11.30" height="21.60" fill="url(#hatch)" stroke="#111" stroke-width="0.9" />
<rect x="310.30" y="557.90" width="11.30" height="19.30" fill="#000" stroke="#000" stroke-width="0.5" />
<rect x="337.90" y="515.50" width="11.30" height="61.70" fill="#fff" stroke="#111" stroke-width="0.9" />
<path d="M339.30,572.40h1.4v1.4h-1.4zM339.30,561.68h1.4v1.4h-1.4zM339.30,550.96h1.4v1.4h-1.4zM339.30,540.24h1.4v1.4h-1.4zM339.30,529.52h1.4v1.4h-1.4zM339.30,518.80h1.4v1.4h-1.4zM344.20,567.10h1.4v1.4h-1.4zM344.20,556.38h1.4v1.4h-1.4zM344.20,545.66h1.4v1.4h-1.4zM344.20,534.94h1.4v1.4h-1.4zM344.20,524.22h1.4v1.4h-1.4z" fill="#222"/>
<rect x="349.20" y="532.00" width="11.30" height="45.20" fill="url(#hatch)" stroke="#111" stroke-width="0.9" />
<line x1="354.85" y1="529.60" x2="354.85" y2="534.20" stroke="#111" stroke-width="1.05" />
<line x1="351.95" y1="529.60" x2="357.75" y2="529.60" stroke="#111" stroke-width="1.05" />
<line x1="351.95" y1="534.20" x2="357.75" y2="534.20" stroke="#111" stroke-width="1.05" />
<rect x="360.50" y="531.30" width="11.30" height="45.90" fill="#000" stroke="#000" stroke-width="0.5" />
<line x1="366.15" y1="530.50" x2="366.15" y2="531.30" stroke="#111" stroke-width="1.05" />
<line x1="363.25" y1="530.50" x2="369.05" y2="530.50" stroke="#111" stroke-width="1.05" />
<text x="202.90" y="590.50" font-size="9.25" text-anchor="middle" stroke="#1c1c1c" stroke-width="0.28">Sub G</text>
<text x="253.10" y="590.50" font-size="9.25" text-anchor="middle" stroke="#1c1c1c" stroke-width="0.28">G0/G1</text>
<text x="304.50" y="590.50" font-size="9.25" text-anchor="middle" stroke="#1c1c1c" stroke-width="0.28">S</text>
<text x="354.40" y="590.50" font-size="9.25" text-anchor="middle" stroke="#1c1c1c" stroke-width="0.28">G2/M</text>
<text x="214.90" y="563.10" font-size="13" text-anchor="middle" fill="#111" textLength="9.80" lengthAdjust="spacingAndGlyphs" stroke="#111" stroke-width="0.35">**</text>
<text x="253.80" y="449.50" font-size="13" text-anchor="middle" fill="#111" textLength="9.80" lengthAdjust="spacingAndGlyphs" stroke="#111" stroke-width="0.35">**</text>
<text x="265.80" y="456.00" font-size="13" text-anchor="middle" fill="#111" textLength="9.80" lengthAdjust="spacingAndGlyphs" stroke="#111" stroke-width="0.35">**</text>
<text x="304.60" y="557.10" font-size="13" text-anchor="middle" fill="#111" textLength="9.80" lengthAdjust="spacingAndGlyphs" stroke="#111" stroke-width="0.35">**</text>
<text x="316.00" y="559.50" font-size="13" text-anchor="middle" fill="#111" textLength="9.80" lengthAdjust="spacingAndGlyphs" stroke="#111" stroke-width="0.35">**</text>
<text x="355.00" y="529.50" font-size="13" text-anchor="middle" fill="#111" textLength="9.80" lengthAdjust="spacingAndGlyphs" stroke="#111" stroke-width="0.35">**</text>
<text x="366.30" y="531.60" font-size="13" text-anchor="middle" fill="#111" textLength="9.80" lengthAdjust="spacingAndGlyphs" stroke="#111" stroke-width="0.35">**</text>
<rect x="279.50" y="426.50" width="4.60" height="4.60" fill="#fff" stroke="#111" stroke-width="1.15" />
<text x="285.90" y="431.70" font-size="9.4" fill="#111" textLength="74.20" lengthAdjust="spacingAndGlyphs" stroke="#111" stroke-width="0.28">Without AZD6738</text>
<rect x="279.00" y="437.60" width="5.60" height="5.60" fill="#111" />
<path d="M279.90,441.80 L283.30,438.40 L283.80,438.40 L283.80,439.70 L280.50,442.50 L279.90,442.50z" fill="#fff"/>
<text x="285.90" y="443.30" font-size="9.4" fill="#111" textLength="85.10" lengthAdjust="spacingAndGlyphs" stroke="#111" stroke-width="0.28">With AZD6738 1 µM</text>
<rect x="279.00" y="449.00" width="5.60" height="5.60" fill="#000" />
<text x="285.90" y="454.60" font-size="9.4" fill="#111" textLength="85.10" lengthAdjust="spacingAndGlyphs" stroke="#111" stroke-width="0.28">With AZD6738 3 µM</text>
<text x="75.75" y="622.00" font-size="10.3" font-weight="bold" fill="#000" textLength="51.75" lengthAdjust="spacingAndGlyphs">Cll <tspan font-style="italic">ATM</tspan>sh</text>
<line x1="51.25" y1="629.50" x2="51.25" y2="770.30" stroke="#222" stroke-width="1.1" />
<line x1="48.45" y1="767.50" x2="51.25" y2="767.50" stroke="#222" stroke-width="1.0" />
<text x="43.10" y="770.90" font-size="9.7" text-anchor="end" textLength="13.70" lengthAdjust="spacingAndGlyphs" stroke="#1c1c1c" stroke-width="0.28">0%</text>
<line x1="48.45" y1="747.79" x2="51.25" y2="747.79" stroke="#222" stroke-width="1.0" />
<text x="43.10" y="751.19" font-size="9.7" text-anchor="end" textLength="19.00" lengthAdjust="spacingAndGlyphs" stroke="#1c1c1c" stroke-width="0.28">10%</text>
<line x1="48.45" y1="728.07" x2="51.25" y2="728.07" stroke="#222" stroke-width="1.0" />
<text x="43.10" y="731.47" font-size="9.7" text-anchor="end" textLength="19.00" lengthAdjust="spacingAndGlyphs" stroke="#1c1c1c" stroke-width="0.28">20%</text>
<line x1="48.45" y1="708.36" x2="51.25" y2="708.36" stroke="#222" stroke-width="1.0" />
<text x="43.10" y="711.76" font-size="9.7" text-anchor="end" textLength="19.00" lengthAdjust="spacingAndGlyphs" stroke="#1c1c1c" stroke-width="0.28">30%</text>
<line x1="48.45" y1="688.64" x2="51.25" y2="688.64" stroke="#222" stroke-width="1.0" />
<text x="43.10" y="692.04" font-size="9.7" text-anchor="end" textLength="19.00" lengthAdjust="spacingAndGlyphs" stroke="#1c1c1c" stroke-width="0.28">40%</text>
<line x1="48.45" y1="668.93" x2="51.25" y2="668.93" stroke="#222" stroke-width="1.0" />
<text x="43.10" y="672.33" font-size="9.7" text-anchor="end" textLength="19.00" lengthAdjust="spacingAndGlyphs" stroke="#1c1c1c" stroke-width="0.28">50%</text>
<line x1="48.45" y1="649.21" x2="51.25" y2="649.21" stroke="#222" stroke-width="1.0" />
<text x="43.10" y="652.61" font-size="9.7" text-anchor="end" textLength="19.00" lengthAdjust="spacingAndGlyphs" stroke="#1c1c1c" stroke-width="0.28">60%</text>
<line x1="48.45" y1="629.50" x2="51.25" y2="629.50" stroke="#222" stroke-width="1.0" />
<text x="43.10" y="632.90" font-size="9.7" text-anchor="end" textLength="19.00" lengthAdjust="spacingAndGlyphs" stroke="#1c1c1c" stroke-width="0.28">70%</text>
<line x1="48.45" y1="767.50" x2="251.25" y2="767.50" stroke="#222" stroke-width="1.2" />
<line x1="101.25" y1="767.50" x2="101.25" y2="770.40" stroke="#222" stroke-width="1.0" />
<line x1="151.25" y1="767.50" x2="151.25" y2="770.40" stroke="#222" stroke-width="1.0" />
<line x1="201.25" y1="767.50" x2="201.25" y2="770.40" stroke="#222" stroke-width="1.0" />
<line x1="251.25" y1="767.50" x2="251.25" y2="770.40" stroke="#222" stroke-width="1.0" />
<rect x="59.25" y="744.50" width="11.25" height="23.00" fill="#fff" stroke="#111" stroke-width="0.9" />
<path d="M60.65,762.70h1.4v1.4h-1.4zM60.65,751.98h1.4v1.4h-1.4zM65.55,757.40h1.4v1.4h-1.4zM65.55,746.68h1.4v1.4h-1.4z" fill="#222"/>
<line x1="64.88" y1="743.50" x2="64.88" y2="745.60" stroke="#111" stroke-width="1.05" />
<line x1="61.98" y1="743.50" x2="67.78" y2="743.50" stroke="#111" stroke-width="1.05" />
<line x1="61.98" y1="745.60" x2="67.78" y2="745.60" stroke="#111" stroke-width="1.05" />
<rect x="70.50" y="742.00" width="11.25" height="25.50" fill="url(#hatch)" stroke="#111" stroke-width="0.9" />
<rect x="81.75" y="715.00" width="11.25" height="52.50" fill="#000" stroke="#000" stroke-width="0.5" />
<line x1="87.38" y1="712.80" x2="87.38" y2="715.00" stroke="#111" stroke-width="1.05" />
<line x1="84.47" y1="712.80" x2="90.28" y2="712.80" stroke="#111" stroke-width="1.05" />
<rect x="109.25" y="645.75" width="11.25" height="121.75" fill="#fff" stroke="#111" stroke-width="0.9" />
<path d="M110.65,762.70h1.4v1.4h-1.4zM110.65,751.98h1.4v1.4h-1.4zM110.65,741.26h1.4v1.4h-1.4zM110.65,730.54h1.4v1.4h-1.4zM110.65,719.82h1.4v1.4h-1.4zM110.65,709.10h1.4v1.4h-1.4zM110.65,698.38h1.4v1.4h-1.4zM110.65,687.66h1.4v1.4h-1.4zM110.65,676.94h1.4v1.4h-1.4zM110.65,666.22h1.4v1.4h-1.4zM110.65,655.50h1.4v1.4h-1.4zM115.55,757.40h1.4v1.4h-1.4zM115.55,746.68h1.4v1.4h-1.4zM115.55,735.96h1.4v1.4h-1.4zM115.55,725.24h1.4v1.4h-1.4zM115.55,714.52h1.4v1.4h-1.4zM115.55,703.80h1.4v1.4h-1.4zM115.55,693.08h1.4v1.4h-1.4zM115.55,682.36h1.4v1.4h-1.4zM115.55,671.64h1.4v1.4h-1.4zM115.55,660.92h1.4v1.4h-1.4zM115.55,650.20h1.4v1.4h-1.4z" fill="#222"/>
<line x1="114.88" y1="645.00" x2="114.88" y2="646.60" stroke="#111" stroke-width="1.05" />
<line x1="111.97" y1="645.00" x2="117.78" y2="645.00" stroke="#111" stroke-width="1.05" />
<line x1="111.97" y1="646.60" x2="117.78" y2="646.60" stroke="#111" stroke-width="1.05" />
<rect x="120.50" y="637.00" width="11.25" height="130.50" fill="url(#hatch)" stroke="#111" stroke-width="0.9" />
<rect x="131.75" y="661.25" width="11.25" height="106.25" fill="#000" stroke="#000" stroke-width="0.5" />
<line x1="137.38" y1="656.25" x2="137.38" y2="661.25" stroke="#111" stroke-width="1.05" />
<line x1="134.47" y1="656.25" x2="140.28" y2="656.25" stroke="#111" stroke-width="1.05" />
<rect x="159.25" y="746.25" width="11.25" height="21.25" fill="#fff" stroke="#111" stroke-width="0.9" />
<path d="M160.65,762.70h1.4v1.4h-1.4zM160.65,751.98h1.4v1.4h-1.4zM165.55,757.40h1.4v1.4h-1.4z" fill="#222"/>
<rect x="170.50" y="750.50" width="11.25" height="17.00" fill="url(#hatch)" stroke="#111" stroke-width="0.9" />
<rect x="181.75" y="750.00" width="11.25" height="17.50" fill="#000" stroke="#000" stroke-width="0.5" />
<line x1="187.38" y1="748.80" x2="187.38" y2="750.00" stroke="#111" stroke-width="1.05" />
<line x1="184.47" y1="748.80" x2="190.28" y2="748.80" stroke="#111" stroke-width="1.05" />
<rect x="209.25" y="735.00" width="11.25" height="32.50" fill="#fff" stroke="#111" stroke-width="0.9" />
<path d="M210.65,762.70h1.4v1.4h-1.4zM210.65,751.98h1.4v1.4h-1.4zM210.65,741.26h1.4v1.4h-1.4zM215.55,757.40h1.4v1.4h-1.4zM215.55,746.68h1.4v1.4h-1.4zM215.55,735.96h1.4v1.4h-1.4z" fill="#222"/>
<line x1="214.88" y1="734.00" x2="214.88" y2="736.20" stroke="#111" stroke-width="1.05" />
<line x1="211.97" y1="734.00" x2="217.78" y2="734.00" stroke="#111" stroke-width="1.05" />
<line x1="211.97" y1="736.20" x2="217.78" y2="736.20" stroke="#111" stroke-width="1.05" />
<rect x="220.50" y="741.25" width="11.25" height="26.25" fill="url(#hatch)" stroke="#111" stroke-width="0.9" />
<rect x="231.75" y="744.50" width="11.25" height="23.00" fill="#000" stroke="#000" stroke-width="0.5" />
<line x1="237.38" y1="738.25" x2="237.38" y2="744.50" stroke="#111" stroke-width="1.05" />
<line x1="234.47" y1="738.25" x2="240.28" y2="738.25" stroke="#111" stroke-width="1.05" />
<text x="76.00" y="781.75" font-size="9.25" text-anchor="middle" stroke="#1c1c1c" stroke-width="0.28">Sub G</text>
<text x="126.30" y="781.75" font-size="9.25" text-anchor="middle" stroke="#1c1c1c" stroke-width="0.28">G0/G1</text>
<text x="176.25" y="781.75" font-size="9.25" text-anchor="middle" stroke="#1c1c1c" stroke-width="0.28">S</text>
<text x="226.50" y="781.75" font-size="9.25" text-anchor="middle" stroke="#1c1c1c" stroke-width="0.28">G2/M</text>
<text x="87.60" y="714.00" font-size="13" text-anchor="middle" fill="#111" textLength="9.80" lengthAdjust="spacingAndGlyphs" stroke="#111" stroke-width="0.35">**</text>
<text x="137.50" y="658.70" font-size="13" text-anchor="middle" fill="#111" textLength="9.80" lengthAdjust="spacingAndGlyphs" stroke="#111" stroke-width="0.35">**</text>
<text x="238.20" y="738.70" font-size="13" text-anchor="middle" fill="#111" stroke="#111" stroke-width="0.35">*</text>
<rect x="155.60" y="617.50" width="4.60" height="4.60" fill="#fff" stroke="#111" stroke-width="1.15" />
<text x="162.80" y="622.70" font-size="9.4" fill="#111" textLength="73.25" lengthAdjust="spacingAndGlyphs" stroke="#111" stroke-width="0.28">Without AZD6738</text>
<rect x="155.10" y="628.75" width="5.60" height="5.60" fill="#111" />
<path d="M156.00,632.95 L159.40,629.55 L159.90,629.55 L159.90,630.85 L156.60,633.65 L156.00,633.65z" fill="#fff"/>
<text x="162.80" y="634.45" font-size="9.4" fill="#111" textLength="84.00" lengthAdjust="spacingAndGlyphs" stroke="#111" stroke-width="0.28">With AZD6738 1 µM</text>
<rect x="155.10" y="640.10" width="5.60" height="5.60" fill="#000" />
<text x="162.80" y="645.70" font-size="9.4" fill="#111" textLength="84.00" lengthAdjust="spacingAndGlyphs" stroke="#111" stroke-width="0.28">With AZD6738 3 µM</text>
<text x="354.50" y="623.75" font-size="10.4" font-weight="bold" fill="#000" textLength="26.00" lengthAdjust="spacingAndGlyphs">Mec1</text>
<line x1="318.75" y1="625.00" x2="318.75" y2="766.05" stroke="#222" stroke-width="1.1" />
<line x1="315.95" y1="763.25" x2="318.75" y2="763.25" stroke="#222" stroke-width="1.0" />
<text x="311.10" y="766.65" font-size="9.7" text-anchor="end" textLength="13.70" lengthAdjust="spacingAndGlyphs" stroke="#1c1c1c" stroke-width="0.28">0%</text>
<line x1="315.95" y1="743.50" x2="318.75" y2="743.50" stroke="#222" stroke-width="1.0" />
<text x="311.10" y="746.90" font-size="9.7" text-anchor="end" textLength="19.00" lengthAdjust="spacingAndGlyphs" stroke="#1c1c1c" stroke-width="0.28">10%</text>
<line x1="315.95" y1="723.75" x2="318.75" y2="723.75" stroke="#222" stroke-width="1.0" />
<text x="311.10" y="727.15" font-size="9.7" text-anchor="end" textLength="19.00" lengthAdjust="spacingAndGlyphs" stroke="#1c1c1c" stroke-width="0.28">20%</text>
<line x1="315.95" y1="704.00" x2="318.75" y2="704.00" stroke="#222" stroke-width="1.0" />
<text x="311.10" y="707.40" font-size="9.7" text-anchor="end" textLength="19.00" lengthAdjust="spacingAndGlyphs" stroke="#1c1c1c" stroke-width="0.28">30%</text>
<line x1="315.95" y1="684.25" x2="318.75" y2="684.25" stroke="#222" stroke-width="1.0" />
<text x="311.10" y="687.65" font-size="9.7" text-anchor="end" textLength="19.00" lengthAdjust="spacingAndGlyphs" stroke="#1c1c1c" stroke-width="0.28">40%</text>
<line x1="315.95" y1="664.50" x2="318.75" y2="664.50" stroke="#222" stroke-width="1.0" />
<text x="311.10" y="667.90" font-size="9.7" text-anchor="end" textLength="19.00" lengthAdjust="spacingAndGlyphs" stroke="#1c1c1c" stroke-width="0.28">50%</text>
<line x1="315.95" y1="644.75" x2="318.75" y2="644.75" stroke="#222" stroke-width="1.0" />
<text x="311.10" y="648.15" font-size="9.7" text-anchor="end" textLength="19.00" lengthAdjust="spacingAndGlyphs" stroke="#1c1c1c" stroke-width="0.28">60%</text>
<line x1="315.95" y1="625.00" x2="318.75" y2="625.00" stroke="#222" stroke-width="1.0" />
<text x="311.10" y="628.40" font-size="9.7" text-anchor="end" textLength="19.00" lengthAdjust="spacingAndGlyphs" stroke="#1c1c1c" stroke-width="0.28">70%</text>
<line x1="315.95" y1="763.25" x2="519.60" y2="763.25" stroke="#222" stroke-width="1.2" />
<line x1="368.90" y1="763.25" x2="368.90" y2="766.15" stroke="#222" stroke-width="1.0" />
<line x1="419.30" y1="763.25" x2="419.30" y2="766.15" stroke="#222" stroke-width="1.0" />
<line x1="469.50" y1="763.25" x2="469.50" y2="766.15" stroke="#222" stroke-width="1.0" />
<line x1="519.60" y1="763.25" x2="519.60" y2="766.15" stroke="#222" stroke-width="1.0" />
<rect x="327.05" y="753.25" width="11.25" height="10.00" fill="#fff" stroke="#111" stroke-width="0.9" />
<path d="M328.45,758.45h1.4v1.4h-1.4z" fill="#222"/>
<rect x="338.30" y="740.50" width="11.25" height="22.75" fill="url(#hatch)" stroke="#111" stroke-width="0.9" />
<line x1="343.93" y1="735.50" x2="343.93" y2="746.25" stroke="#111" stroke-width="1.05" />
<line x1="341.03" y1="735.50" x2="346.82" y2="735.50" stroke="#111" stroke-width="1.05" />
<line x1="341.03" y1="746.25" x2="346.82" y2="746.25" stroke="#111" stroke-width="1.05" />
<rect x="349.55" y="742.50" width="11.25" height="20.75" fill="#000" stroke="#000" stroke-width="0.5" />
<line x1="355.18" y1="740.00" x2="355.18" y2="742.50" stroke="#111" stroke-width="1.05" />
<line x1="352.28" y1="740.00" x2="358.07" y2="740.00" stroke="#111" stroke-width="1.05" />
<rect x="377.20" y="646.75" width="11.25" height="116.50" fill="#fff" stroke="#111" stroke-width="0.9" />
<path d="M378.60,758.45h1.4v1.4h-1.4zM378.60,747.73h1.4v1.4h-1.4zM378.60,737.01h1.4v1.4h-1.4zM378.60,726.29h1.4v1.4h-1.4zM378.60,715.57h1.4v1.4h-1.4zM378.60,704.85h1.4v1.4h-1.4zM378.60,694.13h1.4v1.4h-1.4zM378.60,683.41h1.4v1.4h-1.4zM378.60,672.69h1.4v1.4h-1.4zM378.60,661.97h1.4v1.4h-1.4zM378.60,651.25h1.4v1.4h-1.4zM383.50,753.15h1.4v1.4h-1.4zM383.50,742.43h1.4v1.4h-1.4zM383.50,731.71h1.4v1.4h-1.4zM383.50,720.99h1.4v1.4h-1.4zM383.50,710.27h1.4v1.4h-1.4zM383.50,699.55h1.4v1.4h-1.4zM383.50,688.83h1.4v1.4h-1.4zM383.50,678.11h1.4v1.4h-1.4zM383.50,667.39h1.4v1.4h-1.4zM383.50,656.67h1.4v1.4h-1.4z" fill="#222"/>
<line x1="382.82" y1="644.25" x2="382.82" y2="649.00" stroke="#111" stroke-width="1.05" />
<line x1="379.93" y1="644.25" x2="385.72" y2="644.25" stroke="#111" stroke-width="1.05" />
<line x1="379.93" y1="649.00" x2="385.72" y2="649.00" stroke="#111" stroke-width="1.05" />
<rect x="388.45" y="673.75" width="11.25" height="89.50" fill="url(#hatch)" stroke="#111" stroke-width="0.9" />
<line x1="394.07" y1="667.50" x2="394.07" y2="680.00" stroke="#111" stroke-width="1.05" />
<line x1="391.18" y1="667.50" x2="396.97" y2="667.50" stroke="#111" stroke-width="1.05" />
<line x1="391.18" y1="680.00" x2="396.97" y2="680.00" stroke="#111" stroke-width="1.05" />
<rect x="399.70" y="675.50" width="11.25" height="87.75" fill="#000" stroke="#000" stroke-width="0.5" />
<line x1="405.32" y1="674.00" x2="405.32" y2="675.50" stroke="#111" stroke-width="1.05" />
<line x1="402.43" y1="674.00" x2="408.22" y2="674.00" stroke="#111" stroke-width="1.05" />
<rect x="427.60" y="725.50" width="11.25" height="37.75" fill="#fff" stroke="#111" stroke-width="0.9" />
<path d="M429.00,758.45h1.4v1.4h-1.4zM429.00,747.73h1.4v1.4h-1.4zM429.00,737.01h1.4v1.4h-1.4zM433.90,753.15h1.4v1.4h-1.4zM433.90,742.43h1.4v1.4h-1.4zM433.90,731.71h1.4v1.4h-1.4z" fill="#222"/>
<rect x="438.85" y="700.00" width="11.25" height="63.25" fill="url(#hatch)" stroke="#111" stroke-width="0.9" />
<line x1="444.48" y1="695.00" x2="444.48" y2="704.50" stroke="#111" stroke-width="1.05" />
<line x1="441.58" y1="695.00" x2="447.38" y2="695.00" stroke="#111" stroke-width="1.05" />
<line x1="441.58" y1="704.50" x2="447.38" y2="704.50" stroke="#111" stroke-width="1.05" />
<rect x="450.10" y="701.25" width="11.25" height="62.00" fill="#000" stroke="#000" stroke-width="0.5" />
<line x1="455.73" y1="697.00" x2="455.73" y2="701.25" stroke="#111" stroke-width="1.05" />
<line x1="452.83" y1="697.00" x2="458.62" y2="697.00" stroke="#111" stroke-width="1.05" />
<rect x="477.80" y="728.75" width="11.25" height="34.50" fill="#fff" stroke="#111" stroke-width="0.9" />
<path d="M479.20,758.45h1.4v1.4h-1.4zM479.20,747.73h1.4v1.4h-1.4zM479.20,737.01h1.4v1.4h-1.4zM484.10,753.15h1.4v1.4h-1.4zM484.10,742.43h1.4v1.4h-1.4zM484.10,731.71h1.4v1.4h-1.4z" fill="#222"/>
<line x1="483.43" y1="726.25" x2="483.43" y2="731.25" stroke="#111" stroke-width="1.05" />
<line x1="480.53" y1="726.25" x2="486.32" y2="726.25" stroke="#111" stroke-width="1.05" />
<line x1="480.53" y1="731.25" x2="486.32" y2="731.25" stroke="#111" stroke-width="1.05" />
<rect x="489.05" y="740.50" width="11.25" height="22.75" fill="url(#hatch)" stroke="#111" stroke-width="0.9" />
<line x1="494.68" y1="736.75" x2="494.68" y2="744.25" stroke="#111" stroke-width="1.05" />
<line x1="491.78" y1="736.75" x2="497.57" y2="736.75" stroke="#111" stroke-width="1.05" />
<line x1="491.78" y1="744.25" x2="497.57" y2="744.25" stroke="#111" stroke-width="1.05" />
<rect x="500.30" y="734.50" width="11.25" height="28.75" fill="#000" stroke="#000" stroke-width="0.5" />
<line x1="505.93" y1="730.00" x2="505.93" y2="734.50" stroke="#111" stroke-width="1.05" />
<line x1="503.03" y1="730.00" x2="508.82" y2="730.00" stroke="#111" stroke-width="1.05" />
<text x="343.75" y="777.00" font-size="9.25" text-anchor="middle" stroke="#1c1c1c" stroke-width="0.28">Sub G</text>
<text x="394.00" y="777.00" font-size="9.25" text-anchor="middle" stroke="#1c1c1c" stroke-width="0.28">G0/G1</text>
<text x="443.25" y="777.00" font-size="9.25" text-anchor="middle" stroke="#1c1c1c" stroke-width="0.28">S</text>
<text x="494.60" y="777.00" font-size="9.25" text-anchor="middle" stroke="#1c1c1c" stroke-width="0.28">G2/M</text>
<text x="394.30" y="668.50" font-size="13" text-anchor="middle" fill="#111" textLength="9.80" lengthAdjust="spacingAndGlyphs" stroke="#111" stroke-width="0.35">**</text>
<text x="406.00" y="675.90" font-size="13" text-anchor="middle" fill="#111" textLength="9.80" lengthAdjust="spacingAndGlyphs" stroke="#111" stroke-width="0.35">**</text>
<text x="444.00" y="695.60" font-size="13" text-anchor="middle" fill="#111" textLength="9.80" lengthAdjust="spacingAndGlyphs" stroke="#111" stroke-width="0.35">**</text>
<text x="456.00" y="699.60" font-size="13" text-anchor="middle" fill="#111" textLength="9.80" lengthAdjust="spacingAndGlyphs" stroke="#111" stroke-width="0.35">**</text>
<rect x="423.35" y="613.75" width="4.60" height="4.60" fill="#fff" stroke="#111" stroke-width="1.15" />
<text x="429.75" y="618.95" font-size="9.4" fill="#111" textLength="74.30" lengthAdjust="spacingAndGlyphs" stroke="#111" stroke-width="0.28">Without AZD6738</text>
<rect x="422.85" y="624.60" width="5.60" height="5.60" fill="#111" />
<path d="M423.75,628.80 L427.15,625.40 L427.65,625.40 L427.65,626.70 L424.35,629.50 L423.75,629.50z" fill="#fff"/>
<text x="429.75" y="630.30" font-size="9.4" fill="#111" textLength="84.80" lengthAdjust="spacingAndGlyphs" stroke="#111" stroke-width="0.28">With AZD6738 1 µM</text>
<rect x="422.85" y="636.35" width="5.60" height="5.60" fill="#000" />
<text x="429.75" y="641.95" font-size="9.4" fill="#111" textLength="84.80" lengthAdjust="spacingAndGlyphs" stroke="#111" stroke-width="0.28">With AZD6738 3 µM</text>
<text x="62.50" y="808.25" font-size="10.3" font-weight="bold" fill="#000" textLength="165.50" lengthAdjust="spacingAndGlyphs"><tspan font-style="italic">TP53</tspan>/<tspan font-style="italic">ATM</tspan>-wt  primary CLL (n=3)</text>
<line x1="53.75" y1="818.75" x2="53.75" y2="982.80" stroke="#222" stroke-width="1.1" />
<line x1="50.95" y1="980.00" x2="53.75" y2="980.00" stroke="#222" stroke-width="1.0" />
<text x="46.10" y="983.40" font-size="9.7" text-anchor="end" textLength="13.70" lengthAdjust="spacingAndGlyphs" stroke="#1c1c1c" stroke-width="0.28">0%</text>
<line x1="50.95" y1="962.08" x2="53.75" y2="962.08" stroke="#222" stroke-width="1.0" />
<text x="46.10" y="965.48" font-size="9.7" text-anchor="end" textLength="19.00" lengthAdjust="spacingAndGlyphs" stroke="#1c1c1c" stroke-width="0.28">10%</text>
<line x1="50.95" y1="944.17" x2="53.75" y2="944.17" stroke="#222" stroke-width="1.0" />
<text x="46.10" y="947.57" font-size="9.7" text-anchor="end" textLength="19.00" lengthAdjust="spacingAndGlyphs" stroke="#1c1c1c" stroke-width="0.28">20%</text>
<line x1="50.95" y1="926.25" x2="53.75" y2="926.25" stroke="#222" stroke-width="1.0" />
<text x="46.10" y="929.65" font-size="9.7" text-anchor="end" textLength="19.00" lengthAdjust="spacingAndGlyphs" stroke="#1c1c1c" stroke-width="0.28">30%</text>
<line x1="50.95" y1="908.33" x2="53.75" y2="908.33" stroke="#222" stroke-width="1.0" />
<text x="46.10" y="911.73" font-size="9.7" text-anchor="end" textLength="19.00" lengthAdjust="spacingAndGlyphs" stroke="#1c1c1c" stroke-width="0.28">40%</text>
<line x1="50.95" y1="890.42" x2="53.75" y2="890.42" stroke="#222" stroke-width="1.0" />
<text x="46.10" y="893.82" font-size="9.7" text-anchor="end" textLength="19.00" lengthAdjust="spacingAndGlyphs" stroke="#1c1c1c" stroke-width="0.28">50%</text>
<line x1="50.95" y1="872.50" x2="53.75" y2="872.50" stroke="#222" stroke-width="1.0" />
<text x="46.10" y="875.90" font-size="9.7" text-anchor="end" textLength="19.00" lengthAdjust="spacingAndGlyphs" stroke="#1c1c1c" stroke-width="0.28">60%</text>
<line x1="50.95" y1="854.58" x2="53.75" y2="854.58" stroke="#222" stroke-width="1.0" />
<text x="46.10" y="857.98" font-size="9.7" text-anchor="end" textLength="19.00" lengthAdjust="spacingAndGlyphs" stroke="#1c1c1c" stroke-width="0.28">70%</text>
<line x1="50.95" y1="836.67" x2="53.75" y2="836.67" stroke="#222" stroke-width="1.0" />
<text x="46.10" y="840.07" font-size="9.7" text-anchor="end" textLength="19.00" lengthAdjust="spacingAndGlyphs" stroke="#1c1c1c" stroke-width="0.28">80%</text>
<line x1="50.95" y1="818.75" x2="53.75" y2="818.75" stroke="#222" stroke-width="1.0" />
<text x="46.10" y="822.15" font-size="9.7" text-anchor="end" textLength="19.00" lengthAdjust="spacingAndGlyphs" stroke="#1c1c1c" stroke-width="0.28">90%</text>
<line x1="50.95" y1="980.00" x2="232.50" y2="980.00" stroke="#222" stroke-width="1.2" />
<line x1="113.75" y1="980.00" x2="113.75" y2="982.90" stroke="#222" stroke-width="1.0" />
<line x1="173.25" y1="980.00" x2="173.25" y2="982.90" stroke="#222" stroke-width="1.0" />
<line x1="232.50" y1="980.00" x2="232.50" y2="982.90" stroke="#222" stroke-width="1.0" />
<rect x="64.40" y="855.50" width="13.10" height="124.50" fill="#fff" stroke="#111" stroke-width="0.9" />
<path d="M66.10,973.10h1.4v1.4h-1.4zM66.10,962.38h1.4v1.4h-1.4zM66.10,951.66h1.4v1.4h-1.4zM66.10,940.94h1.4v1.4h-1.4zM66.10,930.22h1.4v1.4h-1.4zM66.10,919.50h1.4v1.4h-1.4zM66.10,908.78h1.4v1.4h-1.4zM66.10,898.06h1.4v1.4h-1.4zM66.10,887.34h1.4v1.4h-1.4zM66.10,876.62h1.4v1.4h-1.4zM66.10,865.90h1.4v1.4h-1.4zM71.60,967.90h1.4v1.4h-1.4zM71.60,957.18h1.4v1.4h-1.4zM71.60,946.46h1.4v1.4h-1.4zM71.60,935.74h1.4v1.4h-1.4zM71.60,925.02h1.4v1.4h-1.4zM71.60,914.30h1.4v1.4h-1.4zM71.60,903.58h1.4v1.4h-1.4zM71.60,892.86h1.4v1.4h-1.4zM71.60,882.14h1.4v1.4h-1.4zM71.60,871.42h1.4v1.4h-1.4zM71.60,860.70h1.4v1.4h-1.4z" fill="#222"/>
<line x1="70.95" y1="847.00" x2="70.95" y2="863.75" stroke="#111" stroke-width="1.05" />
<line x1="68.05" y1="847.00" x2="73.85" y2="847.00" stroke="#111" stroke-width="1.05" />
<line x1="68.05" y1="863.75" x2="73.85" y2="863.75" stroke="#111" stroke-width="1.05" />
<rect x="77.50" y="836.75" width="13.10" height="143.25" fill="url(#hatch)" stroke="#111" stroke-width="0.9" />
<line x1="84.05" y1="830.50" x2="84.05" y2="843.00" stroke="#111" stroke-width="1.05" />
<line x1="81.15" y1="830.50" x2="86.95" y2="830.50" stroke="#111" stroke-width="1.05" />
<line x1="81.15" y1="843.00" x2="86.95" y2="843.00" stroke="#111" stroke-width="1.05" />
<rect x="90.60" y="833.00" width="13.10" height="147.00" fill="#000" stroke="#000" stroke-width="0.5" />
<line x1="97.15" y1="829.50" x2="97.15" y2="833.00" stroke="#111" stroke-width="1.05" />
<line x1="94.25" y1="829.50" x2="100.05" y2="829.50" stroke="#111" stroke-width="1.05" />
<rect x="123.30" y="952.50" width="13.10" height="27.50" fill="#fff" stroke="#111" stroke-width="0.9" />
<path d="M125.00,973.10h1.4v1.4h-1.4zM125.00,962.38h1.4v1.4h-1.4zM130.50,967.90h1.4v1.4h-1.4zM130.50,957.18h1.4v1.4h-1.4z" fill="#222"/>
<line x1="129.85" y1="946.25" x2="129.85" y2="958.00" stroke="#111" stroke-width="1.05" />
<line x1="126.95" y1="946.25" x2="132.75" y2="946.25" stroke="#111" stroke-width="1.05" />
<line x1="126.95" y1="958.00" x2="132.75" y2="958.00" stroke="#111" stroke-width="1.05" />
<rect x="136.40" y="962.00" width="13.10" height="18.00" fill="url(#hatch)" stroke="#111" stroke-width="0.9" />
<line x1="142.95" y1="958.00" x2="142.95" y2="965.50" stroke="#111" stroke-width="1.05" />
<line x1="140.05" y1="958.00" x2="145.85" y2="958.00" stroke="#111" stroke-width="1.05" />
<line x1="140.05" y1="965.50" x2="145.85" y2="965.50" stroke="#111" stroke-width="1.05" />
<rect x="149.50" y="962.50" width="13.10" height="17.50" fill="#000" stroke="#000" stroke-width="0.5" />
<line x1="156.05" y1="960.75" x2="156.05" y2="962.50" stroke="#111" stroke-width="1.05" />
<line x1="153.15" y1="960.75" x2="158.95" y2="960.75" stroke="#111" stroke-width="1.05" />
<rect x="182.60" y="952.00" width="13.10" height="28.00" fill="#fff" stroke="#111" stroke-width="0.9" />
<path d="M184.30,973.10h1.4v1.4h-1.4zM184.30,962.38h1.4v1.4h-1.4zM189.80,967.90h1.4v1.4h-1.4zM189.80,957.18h1.4v1.4h-1.4z" fill="#222"/>
<line x1="189.15" y1="949.25" x2="189.15" y2="954.25" stroke="#111" stroke-width="1.05" />
<line x1="186.25" y1="949.25" x2="192.05" y2="949.25" stroke="#111" stroke-width="1.05" />
<line x1="186.25" y1="954.25" x2="192.05" y2="954.25" stroke="#111" stroke-width="1.05" />
<rect x="195.70" y="960.75" width="13.10" height="19.25" fill="url(#hatch)" stroke="#111" stroke-width="0.9" />
<line x1="202.25" y1="957.50" x2="202.25" y2="964.00" stroke="#111" stroke-width="1.05" />
<line x1="199.35" y1="957.50" x2="205.15" y2="957.50" stroke="#111" stroke-width="1.05" />
<line x1="199.35" y1="964.00" x2="205.15" y2="964.00" stroke="#111" stroke-width="1.05" />
<rect x="208.80" y="963.00" width="13.10" height="17.00" fill="#000" stroke="#000" stroke-width="0.5" />
<line x1="215.35" y1="961.75" x2="215.35" y2="963.00" stroke="#111" stroke-width="1.05" />
<line x1="212.45" y1="961.75" x2="218.25" y2="961.75" stroke="#111" stroke-width="1.05" />
<text x="83.90" y="993.40" font-size="9.25" text-anchor="middle" stroke="#1c1c1c" stroke-width="0.28">G0/G1</text>
<text x="143.25" y="993.40" font-size="9.25" text-anchor="middle" stroke="#1c1c1c" stroke-width="0.28">S</text>
<text x="202.50" y="993.40" font-size="9.25" text-anchor="middle" stroke="#1c1c1c" stroke-width="0.28">G2/M</text>
<text x="97.20" y="828.70" font-size="13" text-anchor="middle" fill="#111" stroke="#111" stroke-width="0.35">*</text>
<rect x="140.10" y="819.25" width="4.60" height="4.60" fill="#fff" stroke="#111" stroke-width="1.15" />
<text x="146.50" y="824.45" font-size="9.4" fill="#111" textLength="74.80" lengthAdjust="spacingAndGlyphs" stroke="#111" stroke-width="0.28">Without AZD6738</text>
<rect x="139.60" y="828.30" width="5.60" height="5.60" fill="#111" />
<path d="M140.50,832.50 L143.90,829.10 L144.40,829.10 L144.40,830.40 L141.10,833.20 L140.50,833.20z" fill="#fff"/>
<text x="146.50" y="834.00" font-size="9.4" fill="#111" textLength="85.30" lengthAdjust="spacingAndGlyphs" stroke="#111" stroke-width="0.28">With AZD6738 3 µM</text>
<rect x="139.60" y="838.35" width="5.60" height="5.60" fill="#000" />
<text x="146.50" y="843.95" font-size="9.4" fill="#111" textLength="90.60" lengthAdjust="spacingAndGlyphs" stroke="#111" stroke-width="0.28">With AZD6738 10 µM</text>
<text x="335.00" y="805.20" font-size="10.3" font-weight="bold" fill="#000" textLength="170.50" lengthAdjust="spacingAndGlyphs"><tspan font-style="italic">TP53</tspan>-defective primary CLL (n=3)</text>
<line x1="327.50" y1="812.00" x2="327.50" y2="977.30" stroke="#222" stroke-width="1.1" />
<line x1="324.70" y1="974.50" x2="327.50" y2="974.50" stroke="#222" stroke-width="1.0" />
<text x="320.60" y="977.90" font-size="9.7" text-anchor="end" textLength="13.70" lengthAdjust="spacingAndGlyphs" stroke="#1c1c1c" stroke-width="0.28">0%</text>
<line x1="324.70" y1="954.19" x2="327.50" y2="954.19" stroke="#222" stroke-width="1.0" />
<text x="320.60" y="957.59" font-size="9.7" text-anchor="end" textLength="19.00" lengthAdjust="spacingAndGlyphs" stroke="#1c1c1c" stroke-width="0.28">10%</text>
<line x1="324.70" y1="933.88" x2="327.50" y2="933.88" stroke="#222" stroke-width="1.0" />
<text x="320.60" y="937.27" font-size="9.7" text-anchor="end" textLength="19.00" lengthAdjust="spacingAndGlyphs" stroke="#1c1c1c" stroke-width="0.28">20%</text>
<line x1="324.70" y1="913.56" x2="327.50" y2="913.56" stroke="#222" stroke-width="1.0" />
<text x="320.60" y="916.96" font-size="9.7" text-anchor="end" textLength="19.00" lengthAdjust="spacingAndGlyphs" stroke="#1c1c1c" stroke-width="0.28">30%</text>
<line x1="324.70" y1="893.25" x2="327.50" y2="893.25" stroke="#222" stroke-width="1.0" />
<text x="320.60" y="896.65" font-size="9.7" text-anchor="end" textLength="19.00" lengthAdjust="spacingAndGlyphs" stroke="#1c1c1c" stroke-width="0.28">40%</text>
<line x1="324.70" y1="872.94" x2="327.50" y2="872.94" stroke="#222" stroke-width="1.0" />
<text x="320.60" y="876.34" font-size="9.7" text-anchor="end" textLength="19.00" lengthAdjust="spacingAndGlyphs" stroke="#1c1c1c" stroke-width="0.28">50%</text>
<line x1="324.70" y1="852.62" x2="327.50" y2="852.62" stroke="#222" stroke-width="1.0" />
<text x="320.60" y="856.02" font-size="9.7" text-anchor="end" textLength="19.00" lengthAdjust="spacingAndGlyphs" stroke="#1c1c1c" stroke-width="0.28">60%</text>
<line x1="324.70" y1="832.31" x2="327.50" y2="832.31" stroke="#222" stroke-width="1.0" />
<text x="320.60" y="835.71" font-size="9.7" text-anchor="end" textLength="19.00" lengthAdjust="spacingAndGlyphs" stroke="#1c1c1c" stroke-width="0.28">70%</text>
<line x1="324.70" y1="812.00" x2="327.50" y2="812.00" stroke="#222" stroke-width="1.0" />
<text x="320.60" y="815.40" font-size="9.7" text-anchor="end" textLength="19.00" lengthAdjust="spacingAndGlyphs" stroke="#1c1c1c" stroke-width="0.28">80%</text>
<line x1="324.70" y1="974.50" x2="505.75" y2="974.50" stroke="#222" stroke-width="1.2" />
<line x1="387.50" y1="974.50" x2="387.50" y2="977.40" stroke="#222" stroke-width="1.0" />
<line x1="446.25" y1="974.50" x2="446.25" y2="977.40" stroke="#222" stroke-width="1.0" />
<line x1="505.75" y1="974.50" x2="505.75" y2="977.40" stroke="#222" stroke-width="1.0" />
<rect x="338.30" y="831.25" width="13.30" height="143.25" fill="#fff" stroke="#111" stroke-width="0.9" />
<path d="M341.10,967.60h1.4v1.4h-1.4zM341.10,956.88h1.4v1.4h-1.4zM341.10,946.16h1.4v1.4h-1.4zM341.10,935.44h1.4v1.4h-1.4zM341.10,924.72h1.4v1.4h-1.4zM341.10,914.00h1.4v1.4h-1.4zM341.10,903.28h1.4v1.4h-1.4zM341.10,892.56h1.4v1.4h-1.4zM341.10,881.84h1.4v1.4h-1.4zM341.10,871.12h1.4v1.4h-1.4zM341.10,860.40h1.4v1.4h-1.4zM341.10,849.68h1.4v1.4h-1.4zM341.10,838.96h1.4v1.4h-1.4zM346.60,962.40h1.4v1.4h-1.4zM346.60,951.68h1.4v1.4h-1.4zM346.60,940.96h1.4v1.4h-1.4zM346.60,930.24h1.4v1.4h-1.4zM346.60,919.52h1.4v1.4h-1.4zM346.60,908.80h1.4v1.4h-1.4zM346.60,898.08h1.4v1.4h-1.4zM346.60,887.36h1.4v1.4h-1.4zM346.60,876.64h1.4v1.4h-1.4zM346.60,865.92h1.4v1.4h-1.4zM346.60,855.20h1.4v1.4h-1.4zM346.60,844.48h1.4v1.4h-1.4zM346.60,833.76h1.4v1.4h-1.4z" fill="#222"/>
<line x1="344.95" y1="823.75" x2="344.95" y2="838.75" stroke="#111" stroke-width="1.05" />
<line x1="342.05" y1="823.75" x2="347.85" y2="823.75" stroke="#111" stroke-width="1.05" />
<line x1="342.05" y1="838.75" x2="347.85" y2="838.75" stroke="#111" stroke-width="1.05" />
<rect x="351.60" y="850.75" width="13.30" height="123.75" fill="url(#hatch)" stroke="#111" stroke-width="0.9" />
<line x1="358.25" y1="828.75" x2="358.25" y2="872.50" stroke="#111" stroke-width="1.05" />
<line x1="355.35" y1="828.75" x2="361.15" y2="828.75" stroke="#111" stroke-width="1.05" />
<line x1="355.35" y1="872.50" x2="361.15" y2="872.50" stroke="#111" stroke-width="1.05" />
<rect x="364.90" y="873.75" width="13.30" height="100.75" fill="#000" stroke="#000" stroke-width="0.5" />
<line x1="371.55" y1="862.50" x2="371.55" y2="873.75" stroke="#111" stroke-width="1.05" />
<line x1="368.65" y1="862.50" x2="374.45" y2="862.50" stroke="#111" stroke-width="1.05" />
<rect x="396.80" y="936.75" width="13.30" height="37.75" fill="#fff" stroke="#111" stroke-width="0.9" />
<path d="M399.60,967.60h1.4v1.4h-1.4zM399.60,956.88h1.4v1.4h-1.4zM399.60,946.16h1.4v1.4h-1.4zM405.10,962.40h1.4v1.4h-1.4zM405.10,951.68h1.4v1.4h-1.4zM405.10,940.96h1.4v1.4h-1.4z" fill="#222"/>
<line x1="403.45" y1="933.25" x2="403.45" y2="940.00" stroke="#111" stroke-width="1.05" />
<line x1="400.55" y1="933.25" x2="406.35" y2="933.25" stroke="#111" stroke-width="1.05" />
<line x1="400.55" y1="940.00" x2="406.35" y2="940.00" stroke="#111" stroke-width="1.05" />
<rect x="410.10" y="922.50" width="13.30" height="52.00" fill="url(#hatch)" stroke="#111" stroke-width="0.9" />
<line x1="416.75" y1="910.75" x2="416.75" y2="933.75" stroke="#111" stroke-width="1.05" />
<line x1="413.85" y1="910.75" x2="419.65" y2="910.75" stroke="#111" stroke-width="1.05" />
<line x1="413.85" y1="933.75" x2="419.65" y2="933.75" stroke="#111" stroke-width="1.05" />
<rect x="423.40" y="900.00" width="13.30" height="74.50" fill="#000" stroke="#000" stroke-width="0.5" />
<line x1="430.05" y1="890.75" x2="430.05" y2="900.00" stroke="#111" stroke-width="1.05" />
<line x1="427.15" y1="890.75" x2="432.95" y2="890.75" stroke="#111" stroke-width="1.05" />
<rect x="455.80" y="950.75" width="13.30" height="23.75" fill="#fff" stroke="#111" stroke-width="0.9" />
<path d="M458.60,967.60h1.4v1.4h-1.4zM458.60,956.88h1.4v1.4h-1.4zM464.10,962.40h1.4v1.4h-1.4zM464.10,951.68h1.4v1.4h-1.4z" fill="#222"/>
<line x1="462.45" y1="945.75" x2="462.45" y2="955.00" stroke="#111" stroke-width="1.05" />
<line x1="459.55" y1="945.75" x2="465.35" y2="945.75" stroke="#111" stroke-width="1.05" />
<line x1="459.55" y1="955.00" x2="465.35" y2="955.00" stroke="#111" stroke-width="1.05" />
<rect x="469.10" y="945.00" width="13.30" height="29.50" fill="url(#hatch)" stroke="#111" stroke-width="0.9" />
<line x1="475.75" y1="934.50" x2="475.75" y2="955.00" stroke="#111" stroke-width="1.05" />
<line x1="472.85" y1="934.50" x2="478.65" y2="934.50" stroke="#111" stroke-width="1.05" />
<line x1="472.85" y1="955.00" x2="478.65" y2="955.00" stroke="#111" stroke-width="1.05" />
<rect x="482.40" y="943.75" width="13.30" height="30.75" fill="#000" stroke="#000" stroke-width="0.5" />
<line x1="489.05" y1="935.00" x2="489.05" y2="943.75" stroke="#111" stroke-width="1.05" />
<line x1="486.15" y1="935.00" x2="491.95" y2="935.00" stroke="#111" stroke-width="1.05" />
<text x="357.70" y="988.30" font-size="9.25" text-anchor="middle" stroke="#1c1c1c" stroke-width="0.28">G0/G1</text>
<text x="416.25" y="988.30" font-size="9.25" text-anchor="middle" stroke="#1c1c1c" stroke-width="0.28">S</text>
<text x="476.00" y="988.30" font-size="9.25" text-anchor="middle" stroke="#1c1c1c" stroke-width="0.28">G2/M</text>
<text x="370.90" y="863.70" font-size="13" text-anchor="middle" fill="#111" stroke="#111" stroke-width="0.35">*</text>
<text x="429.00" y="892.50" font-size="13" text-anchor="middle" fill="#111" stroke="#111" stroke-width="0.35">*</text>
<rect x="413.85" y="815.00" width="4.60" height="4.60" fill="#fff" stroke="#111" stroke-width="1.15" />
<text x="420.25" y="820.20" font-size="9.4" fill="#111" textLength="74.80" lengthAdjust="spacingAndGlyphs" stroke="#111" stroke-width="0.28">Without AZD6738</text>
<rect x="413.35" y="825.00" width="5.60" height="5.60" fill="#111" />
<path d="M414.25,829.20 L417.65,825.80 L418.15,825.80 L418.15,827.10 L414.85,829.90 L414.25,829.90z" fill="#fff"/>
<text x="420.25" y="830.70" font-size="9.4" fill="#111" textLength="85.30" lengthAdjust="spacingAndGlyphs" stroke="#111" stroke-width="0.28">With AZD6738 3 µM</text>
<rect x="413.35" y="835.10" width="5.60" height="5.60" fill="#000" />
<text x="420.25" y="840.70" font-size="9.4" fill="#111" textLength="90.60" lengthAdjust="spacingAndGlyphs" stroke="#111" stroke-width="0.28">With AZD6738 10 µM</text>
</g>
<rect x="0.00" y="994.20" width="520.00" height="0.80" fill="#cfcfcf" />
</svg></body></html>
